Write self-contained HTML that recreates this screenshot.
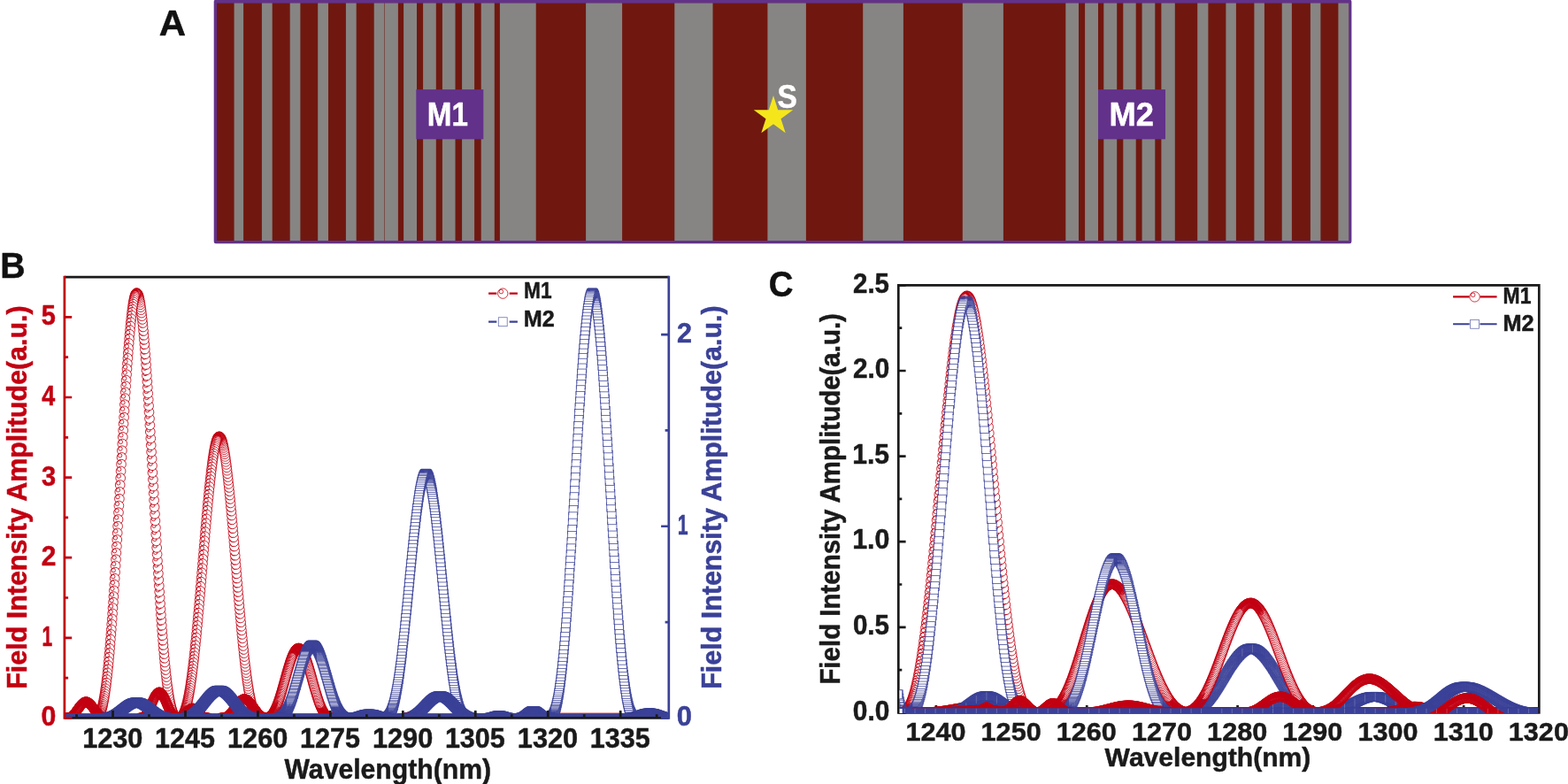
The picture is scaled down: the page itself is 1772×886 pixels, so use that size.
<!DOCTYPE html>
<html lang="en"><head><meta charset="utf-8"><title>Figure</title>
<style>
html,body{margin:0;padding:0;background:#fff;}
body{width:1772px;height:886px;overflow:hidden;}
svg{display:block;}
svg text{font-family:'Liberation Sans', sans-serif;font-weight:700;stroke-linejoin:round;}
</style></head><body>
<svg width="1772" height="886" viewBox="0 0 1772 886">
<rect width="1772" height="886" fill="#fff"/>
<g id="panelA">
<rect x="241.7" y="-0.3" width="1285.7" height="275.6" fill="#62318a" rx="2.2"/>
<rect x="245.0" y="3.6" width="1279.2" height="268.4" fill="#701810"/>
<path d="M264.6,3.6H275.1V272.0H264.6ZM295.9,3.6H307.7V272.0H295.9ZM327.7,3.6H339.4V272.0H327.7ZM359.2,3.6H371.0V272.0H359.2ZM390.9,3.6H402.7V272.0H390.9ZM422.7,3.6H434.1V272.0H422.7ZM434.6,3.6H449.9V272.0H434.6ZM456.1,3.6H471.0V272.0H456.1ZM478.1,3.6H492.8V272.0H478.1ZM499.9,3.6H514.5V272.0H499.9ZM522.1,3.6H536.1V272.0H522.1ZM543.7,3.6H558.8V272.0H543.7ZM564.9,3.6H605.7V272.0H564.9ZM662.1,3.6H703.1V272.0H662.1ZM762.3,3.6H805.5V272.0H762.3ZM867.4,3.6H910.9V272.0H867.4ZM975.2,3.6H1020.9V272.0H975.2ZM1087.8,3.6H1133.9V272.0H1087.8ZM1204.3,3.6H1219.0V272.0H1204.3ZM1226.1,3.6H1241.0V272.0H1226.1ZM1247.3,3.6H1262.2V272.0H1247.3ZM1269.3,3.6H1283.7V272.0H1269.3ZM1290.6,3.6H1305.3V272.0H1290.6ZM1312.4,3.6H1327.8V272.0H1312.4ZM1353.2,3.6H1365.4V272.0H1353.2ZM1385.4,3.6H1396.9V272.0H1385.4ZM1417.4,3.6H1428.9V272.0H1417.4ZM1448.7,3.6H1459.9V272.0H1448.7ZM1480.9,3.6H1492.4V272.0H1480.9ZM1512.4,3.6H1524.2V272.0H1512.4Z" fill="#868583"/>
<rect x="470.3" y="101.1" width="76" height="56.2" fill="#62318a"/>
<text transform="translate(482.83,142.30) scale(0.9126,1)" font-size="36.4" fill="#fff" stroke="#fff" stroke-width="0.5">M1</text>
<rect x="1241.0" y="101.1" width="76" height="56.2" fill="#62318a"/>
<text transform="translate(1253.52,142.30) scale(0.9984,1)" font-size="36.4" fill="#fff" stroke="#fff" stroke-width="0.5">M2</text>
<polygon points="874.0,108.1 879.2,124.2 896.2,124.2 882.5,134.2 887.7,150.3 874.0,140.3 860.3,150.3 865.5,134.2 851.8,124.2 868.8,124.2" fill="#f5e61c"/>
<text transform="translate(878.58,121.90) scale(0.9217,1)" font-size="36.4" fill="#fff" stroke="#fff" stroke-width="0.5">S</text>
</g>
<text transform="translate(179.86,40.00) scale(1.0284,1)" font-size="40.8" fill="#111111" stroke="#111111" stroke-width="0.5">A</text>
<text transform="translate(0.33,313.50) scale(0.9605,1)" font-size="40.8" fill="#111111" stroke="#111111" stroke-width="0.5">B</text>
<text transform="translate(868.78,334.50) scale(0.9409,1)" font-size="40.8" fill="#111111" stroke="#111111" stroke-width="0.5">C</text>
<defs>
<marker id="mr" markerUnits="userSpaceOnUse" markerWidth="16" markerHeight="16" refX="8" refY="8" orient="0" fill="none" stroke="#c20012" stroke-width="0.84"><circle cx="8" cy="8" r="4.63" fill="#fff" stroke="none"/><circle cx="8" cy="8" r="5.35"/><circle cx="6.1" cy="5.9" r="2.2"/></marker>
<marker id="nr" markerUnits="userSpaceOnUse" markerWidth="16" markerHeight="16" refX="8" refY="8" orient="0" fill="none" stroke="#c20012" stroke-width="0.84"><circle cx="8" cy="8" r="5.35"/><circle cx="6.1" cy="5.9" r="2.2"/></marker>
<marker id="mb" markerUnits="userSpaceOnUse" markerWidth="16" markerHeight="16" refX="8" refY="8" orient="0" fill="none" stroke="#3a4197" stroke-width="0.74"><rect x="3.77" y="3.77" width="8.46" height="8.46" fill="#fff" stroke="none"/><rect x="3.05" y="3.05" width="9.9" height="9.9"/></marker>
<marker id="nb" markerUnits="userSpaceOnUse" markerWidth="16" markerHeight="16" refX="8" refY="8" orient="0" fill="none" stroke="#3a4197" stroke-width="0.74"><rect x="3.05" y="3.05" width="9.9" height="9.9"/></marker>
<clipPath id="clipB"><rect x="74.20" y="313.1" width="680.30" height="497.10"/></clipPath>
</defs>
<g id="dataB" clip-path="url(#clipB)" fill="none" stroke-width="0.6">
<path d="M70.2,811.4H758.5" stroke="#c20012" stroke-width="10.0"/>
<polyline points="202.6,811.4 202.2,811.4 201.8,811.4 201.3,811.4 200.9,811.3 200.5,811.3 200,811.1 199.6,811 199.2,810.8 198.8,810.5 198.3,810.2 197.9,809.7 197.5,809.2 197,808.6 196.6,807.9 196.2,807.1 195.7,806.2 195.3,805.2" stroke="#c20012" marker-start="url(#nr)" marker-mid="url(#nr)"/>
<polyline points="195.3,805.2 194.9,804.1 194.4,802.8 194,801.4 193.6,799.8 193.1,798.1 192.7,796.3 192.3,794.3 191.8,792.1 191.4,789.8 191,787.3 190.6,784.7 190.1,781.8 189.7,778.8 189.3,775.7 188.8,772.3 188.4,768.8 188,765.1 187.5,761.2 187.1,757.1 186.7,752.9 186.2,748.5 185.8,743.9 185.4,739.1 184.9,734.1 184.5,729 184.1,723.7 183.6,718.2 183.2,712.6 182.8,706.8 182.3,700.8 181.9,694.7 181.5,688.5 181.1,682.1 180.6,675.5 180.2,668.9 179.8,662.1 179.3,655.2 178.9,648.1 178.5,641 178,633.8 177.6,626.4 177.2,619 176.7,611.5 176.3,603.9 175.9,596.3 175.4,588.6 175,580.9 174.6,573.1 174.1,565.3 173.7,557.5 173.3,549.7 172.9,541.9 172.4,534.1 172,526.3 171.6,518.5 171.1,510.8 170.7,503.2 170.3,495.5 169.8,488 169.4,480.5 169,473.1 168.5,465.8 168.1,458.7 167.7,451.6 167.2,444.6 166.8,437.8 166.4,431.1 165.9,424.6 165.5,418.3 165.1,412.1 164.7,406 164.2,400.2 163.8,394.6 163.4,389.1 162.9,383.9 162.5,378.9 162.1,374.1 161.6,369.5 161.2,365.1 160.8,361 160.3,357.2 159.9,353.6 159.5,350.2 159,347.1 158.6,344.3 158.2,341.7 157.7,339.5 157.3,337.4 156.9,335.7 156.5,334.3 156,333.1" stroke="#c20012" marker-start="url(#mr)" marker-mid="url(#mr)"/>
<polyline points="156,333.1 155.6,332.2 155.2,331.6 154.7,331.3 154.3,331.2 153.9,331.5 153.4,332 153,332.9 152.6,334" stroke="#c20012" marker-start="url(#nr)" marker-mid="url(#nr)"/>
<polyline points="152.6,334 152.1,335.4 151.7,337 151.3,339 150.8,341.2 150.4,343.7 150,346.5 149.5,349.5 149.1,352.8 148.7,356.4 148.3,360.2 147.8,364.2 147.4,368.5 147,373.1 146.5,377.8 146.1,382.8 145.7,388 145.2,393.4 144.8,399 144.4,404.8 143.9,410.8 143.5,416.9 143.1,423.2 142.6,429.7 142.2,436.4 141.8,443.2 141.3,450.1 140.9,457.1 140.5,464.3 140.1,471.6 139.6,478.9 139.2,486.4 138.8,493.9 138.3,501.5 137.9,509.2 137.5,516.9 137,524.6 136.6,532.4 136.2,540.2 135.7,548 135.3,555.9 134.9,563.7 134.4,571.5 134,579.2 133.6,587 133.1,594.7 132.7,602.3 132.3,609.9 131.9,617.4 131.4,624.8 131,632.2 130.6,639.4 130.1,646.6 129.7,653.7 129.3,660.6 128.8,667.4 128.4,674.1 128,680.7 127.5,687.1 127.1,693.4 126.7,699.5 126.2,705.5 125.8,711.4 125.4,717 124.9,722.5 124.5,727.9 124.1,733 123.7,738 123.2,742.8 122.8,747.5 122.4,752 121.9,756.2 121.5,760.3 121.1,764.3 120.6,768 120.2,771.6 119.8,775 119.3,778.2 118.9,781.2 118.5,784.1 118,786.8 117.6,789.3 117.2,791.6 116.7,793.8 116.3,795.9 115.9,797.7 115.5,799.5 115,801 114.6,802.5 114.2,803.8 113.7,805" stroke="#c20012" marker-start="url(#mr)" marker-mid="url(#mr)"/>
<polyline points="113.7,805 113.3,806 112.9,807 112.4,807.8 112,808.5 111.6,809.1 111.1,809.6 110.7,810.1 110.3,810.4 109.8,810.7 109.4,810.9 109,811.1 108.5,811.2 108.1,811.3 107.7,811.4 107.3,811.4 106.8,811.4 106.4,811.4" stroke="#c20012" marker-start="url(#nr)" marker-mid="url(#nr)" marker-end="url(#nr)"/>
<polyline points="295.9,811.4 295.5,811.4 295,811.4 294.6,811.4 294.2,811.4 293.7,811.3 293.3,811.2 292.9,811.1 292.4,811 292,810.8 291.6,810.6 291.1,810.3 290.7,810 290.3,809.6 289.8,809.1 289.4,808.6 289,808 288.6,807.3 288.1,806.5 287.7,805.7 287.3,804.8 286.8,803.7" stroke="#c20012" marker-start="url(#nr)" marker-mid="url(#nr)"/>
<polyline points="286.8,803.7 286.4,802.6 286,801.4 285.5,800.1 285.1,798.6 284.7,797.1 284.2,795.4 283.8,793.7 283.4,791.8 282.9,789.8 282.5,787.7 282.1,785.5 281.6,783.2 281.2,780.7 280.8,778.2 280.4,775.5 279.9,772.6 279.5,769.7 279.1,766.7 278.6,763.5 278.2,760.2 277.8,756.8 277.3,753.3 276.9,749.7 276.5,746 276,742.1 275.6,738.2 275.2,734.1 274.7,730 274.3,725.8 273.9,721.4 273.4,717 273,712.5 272.6,707.9 272.2,703.3 271.7,698.5 271.3,693.8 270.9,688.9 270.4,684 270,679 269.6,674 269.1,669 268.7,663.9 268.3,658.7 267.8,653.6 267.4,648.4 267,643.3 266.5,638.1 266.1,632.9 265.7,627.8 265.2,622.6 264.8,617.5 264.4,612.3 264,607.3 263.5,602.2 263.1,597.2 262.7,592.3 262.2,587.4 261.8,582.5 261.4,577.8 260.9,573.1 260.5,568.5 260.1,564 259.6,559.6 259.2,555.3 258.8,551 258.3,546.9 257.9,542.9 257.5,539.1 257,535.3 256.6,531.7 256.2,528.3 255.8,524.9 255.3,521.8 254.9,518.7 254.5,515.9 254,513.1 253.6,510.6 253.2,508.2 252.7,506 252.3,503.9 251.9,502.1 251.4,500.4 251,498.8 250.6,497.5 250.1,496.4" stroke="#c20012" marker-start="url(#mr)" marker-mid="url(#mr)"/>
<polyline points="250.1,496.4 249.7,495.4 249.3,494.6 248.8,494 248.4,493.6 248,493.4 247.6,493.4 247.1,493.6 246.7,493.9 246.3,494.5 245.8,495.2 245.4,496.1 245,497.3" stroke="#c20012" marker-start="url(#nr)" marker-mid="url(#nr)"/>
<polyline points="245,497.3 244.5,498.5 244.1,500 243.7,501.7 243.2,503.5 242.8,505.5 242.4,507.7 241.9,510.1 241.5,512.6 241.1,515.3 240.6,518.1 240.2,521.1 239.8,524.2 239.4,527.5 238.9,531 238.5,534.6 238.1,538.3 237.6,542.1 237.2,546.1 236.8,550.1 236.3,554.3 235.9,558.6 235.5,563 235,567.5 234.6,572.1 234.2,576.8 233.7,581.5 233.3,586.3 232.9,591.2 232.4,596.1 232,601.1 231.6,606.2 231.2,611.2 230.7,616.4 230.3,621.5 229.9,626.6 229.4,631.8 229,637 228.6,642.2 228.1,647.3 227.7,652.5 227.3,657.6 226.8,662.8 226.4,667.9 226,672.9 225.5,677.9 225.1,682.9 224.7,687.8 224.2,692.7 223.8,697.5 223.4,702.3 223,706.9 222.5,711.5 222.1,716.1 221.7,720.5 221.2,724.8 220.8,729.1 220.4,733.3 219.9,737.3 219.5,741.3 219.1,745.1 218.6,748.9 218.2,752.5 217.8,756.1 217.3,759.5 216.9,762.8 216.5,766 216,769.1 215.6,772 215.2,774.9 214.8,777.6 214.3,780.2 213.9,782.7 213.5,785 213,787.3 212.6,789.4 212.2,791.4 211.7,793.3 211.3,795.1 210.9,796.8 210.4,798.3 210,799.8 209.6,801.1 209.1,802.4 208.7,803.5" stroke="#c20012" marker-start="url(#mr)" marker-mid="url(#mr)"/>
<polyline points="208.7,803.5 208.3,804.5 207.8,805.5 207.4,806.4 207,807.1 206.6,807.8 206.1,808.5 205.7,809 205.3,809.5 204.8,809.9 204.4,810.2 204,810.5 203.5,810.8 203.1,810.9 202.7,811.1 202.2,811.2 201.8,811.3 201.4,811.3 200.9,811.4 200.5,811.4 200.1,811.4 199.6,811.4" stroke="#c20012" marker-start="url(#nr)" marker-mid="url(#nr)" marker-end="url(#nr)"/>
<polyline points="376.9,811.4 376.5,811.4 376,811.4 375.6,811.4 375.2,811.4 374.7,811.3 374.3,811.3 373.9,811.2 373.4,811.2 373,811.1 372.6,811 372.1,810.8 371.7,810.7 371.3,810.5 370.8,810.2 370.4,810 370,809.7 369.5,809.4 369.1,809 368.7,808.7 368.3,808.2 367.8,807.8 367.4,807.3 367,806.7 366.5,806.1 366.1,805.5 365.7,804.8 365.2,804.1 364.8,803.3 364.4,802.5 363.9,801.7 363.5,800.8 363.1,799.9 362.6,798.9 362.2,797.9 361.8,796.8 361.3,795.7" stroke="#c20012" marker-start="url(#nr)" marker-mid="url(#nr)"/>
<polyline points="361.3,795.7 360.9,794.6 360.5,793.4 360.1,792.2 359.6,790.9 359.2,789.6 358.8,788.3 358.3,786.9 357.9,785.6 357.5,784.2 357,782.7 356.6,781.3 356.2,779.8 355.7,778.3 355.3,776.8 354.9,775.3 354.4,773.7 354,772.2 353.6,770.6 353.1,769.1 352.7,767.5 352.3,765.9 351.9,764.4 351.4,762.8 351,761.3 350.6,759.8 350.1,758.3 349.7,756.8 349.3,755.3 348.8,753.9 348.4,752.5 348,751.1 347.5,749.7 347.1,748.4 346.7,747.1 346.2,745.9 345.8,744.7 345.4,743.5" stroke="#c20012" marker-start="url(#mr)" marker-mid="url(#mr)"/>
<polyline points="345.4,743.5 344.9,742.4 344.5,741.4 344.1,740.4 343.7,739.4 343.2,738.5 342.8,737.7 342.4,736.9 341.9,736.2 341.5,735.5 341.1,734.9 340.6,734.4 340.2,733.9 339.8,733.5 339.3,733.2 338.9,733 338.5,732.8 338,732.6 337.6,732.6 337.2,732.6 336.7,732.7 336.3,732.8 335.9,733.1 335.5,733.3 335,733.7 334.6,734.1 334.2,734.6 333.7,735.2 333.3,735.8 332.9,736.5 332.4,737.2 332,738 331.6,738.9 331.1,739.8 330.7,740.8 330.3,741.8 329.8,742.9" stroke="#c20012" marker-start="url(#nr)" marker-mid="url(#nr)"/>
<polyline points="329.8,742.9 329.4,744 329,745.2 328.5,746.4 328.1,747.7 327.7,749 327.3,750.3 326.8,751.7 326.4,753.1 326,754.5 325.5,755.9 325.1,757.4 324.7,758.9 324.2,760.4 323.8,761.9 323.4,763.5 322.9,765 322.5,766.6 322.1,768.1 321.6,769.7 321.2,771.3 320.8,772.8 320.3,774.4 319.9,775.9 319.5,777.4 319,778.9 318.6,780.4 318.2,781.9 317.8,783.3 317.3,784.7 316.9,786.1 316.5,787.5 316,788.9 315.6,790.2 315.2,791.4 314.7,792.7 314.3,793.9 313.9,795 313.4,796.2" stroke="#c20012" marker-start="url(#mr)" marker-mid="url(#mr)"/>
<polyline points="313.4,796.2 313,797.2 312.6,798.3 312.1,799.3 311.7,800.2 311.3,801.2 310.8,802 310.4,802.9 310,803.7 309.6,804.4 309.1,805.1 308.7,805.8 308.3,806.4 307.8,806.9 307.4,807.5 307,808 306.5,808.4 306.1,808.8 305.7,809.2 305.2,809.5 304.8,809.8 304.4,810.1 303.9,810.3 303.5,810.6 303.1,810.7 302.6,810.9 302.2,811 301.8,811.1 301.4,811.2 300.9,811.3 300.5,811.3 300.1,811.4 299.6,811.4 299.2,811.4 298.8,811.4 298.3,811.4 297.9,811.4" stroke="#c20012" marker-start="url(#nr)" marker-mid="url(#nr)" marker-end="url(#nr)"/>
<polyline points="120.8,811.4 120.3,811.4 119.9,811.4 119.5,811.4 119,811.4 118.6,811.4 118.2,811.3 117.7,811.3 117.3,811.2 116.9,811.1 116.4,811 116,810.9 115.6,810.7 115.2,810.5 114.7,810.3 114.3,810.1 113.9,809.8 113.4,809.5 113,809.2 112.6,808.9 112.1,808.5 111.7,808.1 111.3,807.7 110.8,807.2 110.4,806.8 110,806.3 109.5,805.7 109.1,805.2 108.7,804.6 108.2,804.1 107.8,803.5 107.4,802.9 107,802.3 106.5,801.7 106.1,801.1 105.7,800.5 105.2,799.9 104.8,799.3 104.4,798.7 103.9,798.2 103.5,797.6 103.1,797.1 102.6,796.6 102.2,796.1 101.8,795.7 101.3,795.3 100.9,794.9 100.5,794.5 100,794.2 99.6,794 99.2,793.7 98.8,793.6 98.3,793.4 97.9,793.3 97.5,793.3 97,793.3 96.6,793.3 96.2,793.4 95.7,793.5 95.3,793.7 94.9,793.9 94.4,794.2 94,794.5 93.6,794.8 93.1,795.2 92.7,795.6 92.3,796.1 91.8,796.5 91.4,797 91,797.5 90.6,798.1 90.1,798.6 89.7,799.2 89.3,799.8 88.8,800.4 88.4,801 88,801.6 87.5,802.2 87.1,802.8 86.7,803.4 86.2,804 85.8,804.6 85.4,805.1 84.9,805.7 84.5,806.2 84.1,806.7 83.6,807.2 83.2,807.6 82.8,808.1 82.4,808.5 81.9,808.8 81.5,809.2 81.1,809.5 80.6,809.8 80.2,810.1 79.8,810.3 79.3,810.5 78.9,810.7 78.5,810.8 78,811 77.6,811.1 77.2,811.2 76.7,811.3 76.3,811.3 75.9,811.3 75.4,811.4 75,811.4 74.6,811.4 74.2,811.4 73.7,811.4" stroke="#c20012" marker-start="url(#nr)" marker-mid="url(#nr)" marker-end="url(#nr)"/>
<polyline points="235.9,811.4 235.5,811.4 235,811.4 234.6,811.4 234.2,811.4 233.7,811.3 233.3,811.3 232.9,811.2 232.4,811.2 232,811.1 231.6,810.9 231.2,810.8 230.7,810.6 230.3,810.4 229.9,810.1 229.4,809.9 229,809.6 228.6,809.2 228.1,808.9 227.7,808.5 227.3,808.1 226.8,807.7 226.4,807.3 226,806.8 225.5,806.4 225.1,805.9 224.7,805.4 224.2,804.9 223.8,804.5 223.4,804 223,803.6 222.5,803.1 222.1,802.7 221.7,802.4 221.2,802 220.8,801.7 220.4,801.4 219.9,801.1 219.5,800.9 219.1,800.8 218.6,800.6 218.2,800.6 217.8,800.5 217.3,800.5 216.9,800.6 216.5,800.7 216,800.9 215.6,801 215.2,801.3 214.8,801.5 214.3,801.9 213.9,802.2 213.5,802.6 213,803 212.6,803.4 212.2,803.8 211.7,804.3 211.3,804.7 210.9,805.2 210.4,805.7 210,806.1 209.6,806.6 209.1,807.1 208.7,807.5 208.3,807.9 207.8,808.3 207.4,808.7 207,809.1 206.6,809.4 206.1,809.7 205.7,810 205.3,810.3 204.8,810.5 204.4,810.7 204,810.9 203.5,811 203.1,811.1 202.7,811.2 202.2,811.3 201.8,811.3 201.4,811.4 200.9,811.4 200.5,811.4 200.1,811.4 199.6,811.4" stroke="#c20012" marker-start="url(#nr)" marker-mid="url(#nr)" marker-end="url(#nr)"/>
<polyline points="202.2,811.4 201.8,811.4 201.3,811.4 200.9,811.4 200.5,811.3 200,811.3 199.6,811.2 199.2,811.1 198.7,811 198.3,810.8 197.9,810.6 197.5,810.4 197,810.1 196.6,809.7 196.2,809.3 195.7,808.9 195.3,808.4 194.9,807.9 194.4,807.3 194,806.6 193.6,805.9 193.1,805.2 192.7,804.4 192.3,803.6 191.8,802.7 191.4,801.8 191,800.9 190.5,799.9 190.1,798.9 189.7,797.9 189.2,796.9 188.8,795.9 188.4,794.9 188,793.9 187.5,792.9 187.1,791.9 186.7,790.9 186.2,790 185.8,789.1 185.4,788.2 184.9,787.4 184.5,786.6 184.1,785.9 183.6,785.2 183.2,784.6 182.8,784.1 182.3,783.6 181.9,783.2 181.5,782.9 181,782.7 180.6,782.5 180.2,782.4 179.8,782.4 179.3,782.5 178.9,782.7 178.5,782.9 178,783.2 177.6,783.6 177.2,784.1 176.7,784.6 176.3,785.2 175.9,785.9 175.4,786.6 175,787.4 174.6,788.2 174.1,789.1 173.7,790 173.3,791 172.8,791.9 172.4,792.9 172,793.9 171.6,794.9 171.1,796 170.7,797 170.3,798 169.8,799 169.4,800 169,800.9 168.5,801.9 168.1,802.8 167.7,803.6 167.2,804.4 166.8,805.2 166.4,806 165.9,806.6 165.5,807.3 165.1,807.9 164.6,808.4 164.2,808.9 163.8,809.3 163.4,809.7 162.9,810.1 162.5,810.4 162.1,810.6 161.6,810.8 161.2,811 160.8,811.1 160.3,811.2 159.9,811.3 159.5,811.3 159,811.4 158.6,811.4 158.2,811.4 157.7,811.4" stroke="#c20012" marker-start="url(#nr)" marker-mid="url(#nr)" marker-end="url(#nr)"/>
<polyline points="303,811.4 302.6,811.4 302.2,811.4 301.7,811.4 301.3,811.4 300.9,811.4 300.4,811.3 300,811.3 299.6,811.2 299.2,811.1 298.7,811 298.3,810.9 297.9,810.8 297.4,810.7 297,810.5 296.6,810.3 296.1,810.1 295.7,809.8 295.3,809.5 294.8,809.3 294.4,808.9 294,808.6 293.5,808.2 293.1,807.8 292.7,807.4 292.2,807 291.8,806.5 291.4,806 291,805.5 290.5,805 290.1,804.4 289.7,803.9 289.2,803.3 288.8,802.7 288.4,802.1 287.9,801.5 287.5,800.9 287.1,800.3 286.6,799.7 286.2,799.1 285.8,798.5 285.3,797.8 284.9,797.2 284.5,796.7 284,796.1 283.6,795.5 283.2,795 282.8,794.4 282.3,793.9 281.9,793.5 281.5,793 281,792.6 280.6,792.2 280.2,791.8 279.7,791.5 279.3,791.2 278.9,790.9 278.4,790.7 278,790.5 277.6,790.3 277.1,790.2 276.7,790.1 276.3,790.1 275.8,790.1 275.4,790.2 275,790.3 274.6,790.4 274.1,790.5 273.7,790.7 273.3,791 272.8,791.3 272.4,791.6 272,791.9 271.5,792.3 271.1,792.7 270.7,793.1 270.2,793.6 269.8,794.1 269.4,794.6 268.9,795.1 268.5,795.7 268.1,796.3 267.6,796.8 267.2,797.4 266.8,798 266.4,798.6 265.9,799.3 265.5,799.9 265.1,800.5 264.6,801.1 264.2,801.7 263.8,802.3 263.3,802.9 262.9,803.5 262.5,804.1 262,804.6 261.6,805.1 261.2,805.7 260.7,806.2 260.3,806.6 259.9,807.1 259.4,807.5 259,808 258.6,808.3 258.2,808.7 257.7,809 257.3,809.3 256.9,809.6 256.4,809.9 256,810.1 255.6,810.3 255.1,810.5 254.7,810.7 254.3,810.8 253.8,811 253.4,811.1 253,811.2 252.5,811.2 252.1,811.3 251.7,811.3 251.2,811.4 250.8,811.4 250.4,811.4 250,811.4 249.5,811.4 249.1,811.4" stroke="#c20012" marker-start="url(#nr)" marker-mid="url(#nr)" marker-end="url(#nr)"/>
<polyline points="194.6,811.4 194.2,811.4 193.7,811.4 193.3,811.4 192.9,811.4 192.4,811.4 192,811.4 191.6,811.4 191.1,811.4 190.7,811.3 190.3,811.3 189.8,811.3 189.4,811.2 189,811.2 188.5,811.2 188.1,811.1 187.7,811.1 187.2,811 186.8,810.9 186.4,810.8 185.9,810.7 185.5,810.6 185.1,810.5 184.7,810.4 184.2,810.3 183.8,810.2 183.4,810 182.9,809.9 182.5,809.7 182.1,809.5 181.6,809.4 181.2,809.2 180.8,809 180.3,808.8 179.9,808.6 179.5,808.3 179,808.1 178.6,807.9 178.2,807.6 177.7,807.4 177.3,807.1 176.9,806.8 176.5,806.5 176,806.3 175.6,806 175.2,805.7 174.7,805.3 174.3,805 173.9,804.7 173.4,804.4 173,804.1 172.6,803.7 172.1,803.4 171.7,803.1 171.3,802.7 170.8,802.4 170.4,802.1 170,801.7 169.5,801.4 169.1,801 168.7,800.7 168.3,800.4 167.8,800 167.4,799.7 167,799.4 166.5,799.1 166.1,798.7 165.7,798.4 165.2,798.1 164.8,797.8 164.4,797.5 163.9,797.3 163.5,797 163.1,796.7 162.6,796.5 162.2,796.2 161.8,796 161.3,795.7 160.9,795.5 160.5,795.3 160.1,795.1 159.6,794.9 159.2,794.8 158.8,794.6 158.3,794.5 157.9,794.4 157.5,794.2 157,794.1 156.6,794.1 156.2,794 155.7,793.9 155.3,793.9 154.9,793.9 154.4,793.9 154,793.9 153.6,793.9 153.1,793.9 152.7,794 152.3,794 151.9,794.1 151.4,794.2 151,794.3 150.6,794.4 150.1,794.5 149.7,794.7 149.3,794.8 148.8,795 148.4,795.2 148,795.4 147.5,795.6 147.1,795.8 146.7,796 146.2,796.3 145.8,796.5 145.4,796.8 144.9,797.1 144.5,797.3 144.1,797.6 143.7,797.9 143.2,798.2 142.8,798.5 142.4,798.9 141.9,799.2 141.5,799.5 141.1,799.8 140.6,800.2 140.2,800.5 139.8,800.8 139.3,801.2 138.9,801.5 138.5,801.8 138,802.2 137.6,802.5 137.2,802.9 136.7,803.2 136.3,803.5 135.9,803.9 135.5,804.2 135,804.5 134.6,804.8 134.2,805.1 133.7,805.5 133.3,805.8 132.9,806.1 132.4,806.4 132,806.6 131.6,806.9 131.1,807.2 130.7,807.4 130.3,807.7 129.8,808 129.4,808.2 129,808.4 128.5,808.6 128.1,808.9 127.7,809.1 127.3,809.2 126.8,809.4 126.4,809.6 126,809.8 125.5,809.9 125.1,810.1 124.7,810.2 124.2,810.3 123.8,810.5 123.4,810.6 122.9,810.7 122.5,810.8 122.1,810.9 121.6,810.9 121.2,811 120.8,811.1 120.3,811.1 119.9,811.2 119.5,811.2 119.1,811.3 118.6,811.3 118.2,811.3 117.8,811.3 117.3,811.4 116.9,811.4 116.5,811.4 116,811.4 115.6,811.4 115.2,811.4 114.7,811.4 114.3,811.4 113.9,811.4" stroke="#3a4197" marker-start="url(#nb)" marker-mid="url(#nb)" marker-end="url(#nb)"/>
<polyline points="291.9,811.4 291.5,811.4 291.1,811.4 290.7,811.4 290.2,811.4 289.8,811.4 289.4,811.4 288.9,811.4 288.5,811.3 288.1,811.3 287.6,811.3 287.2,811.3 286.8,811.2 286.3,811.2 285.9,811.1 285.5,811 285,810.9 284.6,810.9 284.2,810.8 283.7,810.7 283.3,810.5 282.9,810.4 282.5,810.3 282,810.1 281.6,809.9 281.2,809.8 280.7,809.6 280.3,809.4 279.9,809.1 279.4,808.9 279,808.7 278.6,808.4 278.1,808.1 277.7,807.8 277.3,807.5 276.8,807.2 276.4,806.9 276,806.5 275.5,806.2 275.1,805.8 274.7,805.4 274.3,805 273.8,804.6 273.4,804.2 273,803.8 272.5,803.3 272.1,802.9 271.7,802.4 271.2,802 270.8,801.5 270.4,801 269.9,800.5 269.5,800 269.1,799.4 268.6,798.9 268.2,798.4 267.8,797.9 267.3,797.3 266.9,796.8 266.5,796.2 266.1,795.7 265.6,795.1 265.2,794.6 264.8,794 264.3,793.5 263.9,792.9 263.5,792.4 263,791.8 262.6,791.3 262.2,790.8 261.7,790.2 261.3,789.7 260.9,789.2 260.4,788.7 260,788.2 259.6,787.7 259.1,787.2 258.7,786.7 258.3,786.3 257.9,785.8 257.4,785.4 257,785 256.6,784.5 256.1,784.2 255.7,783.8 255.3,783.4 254.8,783.1 254.4,782.7 254,782.4 253.5,782.1 253.1,781.9 252.7,781.6 252.2,781.4 251.8,781.2 251.4,781 250.9,780.8 250.5,780.7 250.1,780.5 249.7,780.4 249.2,780.3 248.8,780.3 248.4,780.2 247.9,780.2 247.5,780.2 247.1,780.2 246.6,780.3 246.2,780.3 245.8,780.4 245.3,780.5 244.9,780.7 244.5,780.8 244,781 243.6,781.2 243.2,781.4 242.7,781.6 242.3,781.9 241.9,782.2 241.5,782.5 241,782.8 240.6,783.1 240.2,783.4 239.7,783.8 239.3,784.2 238.9,784.6 238.4,785 238,785.4 237.6,785.8 237.1,786.3 236.7,786.8 236.3,787.2 235.8,787.7 235.4,788.2 235,788.7 234.5,789.2 234.1,789.7 233.7,790.3 233.3,790.8 232.8,791.3 232.4,791.9 232,792.4 231.5,793 231.1,793.5 230.7,794.1 230.2,794.6 229.8,795.2 229.4,795.7 228.9,796.3 228.5,796.8 228.1,797.4 227.6,797.9 227.2,798.4 226.8,799 226.3,799.5 225.9,800 225.5,800.5 225.1,801 224.6,801.5 224.2,802 223.8,802.5 223.3,802.9 222.9,803.4 222.5,803.8 222,804.2 221.6,804.7 221.2,805.1 220.7,805.5 220.3,805.8 219.9,806.2 219.4,806.6 219,806.9 218.6,807.2 218.1,807.6 217.7,807.9 217.3,808.1 216.8,808.4 216.4,808.7 216,808.9 215.6,809.2 215.1,809.4 214.7,809.6 214.3,809.8 213.8,810 213.4,810.1 213,810.3 212.5,810.4 212.1,810.5 211.7,810.7 211.2,810.8 210.8,810.9 210.4,811 209.9,811 209.5,811.1 209.1,811.2 208.6,811.2 208.2,811.3 207.8,811.3 207.4,811.3 206.9,811.3 206.5,811.4 206.1,811.4 205.6,811.4 205.2,811.4 204.8,811.4 204.3,811.4 203.9,811.4 203.5,811.4" stroke="#3a4197" marker-start="url(#nb)" marker-mid="url(#nb)" marker-end="url(#nb)"/>
<polyline points="395.2,811.4 394.8,811.4 394.4,811.4 393.9,811.4 393.5,811.4 393.1,811.4 392.6,811.3 392.2,811.3 391.8,811.2 391.3,811.1 390.9,811.1 390.5,810.9 390,810.8 389.6,810.7 389.2,810.5 388.8,810.3 388.3,810 387.9,809.8 387.5,809.5 387,809.1 386.6,808.8 386.2,808.4 385.7,807.9 385.3,807.5 384.9,807 384.4,806.4 384,805.8 383.6,805.2 383.1,804.5 382.7,803.8 382.3,803.1 381.8,802.3 381.4,801.5 381,800.6 380.6,799.7 380.1,798.8 379.7,797.8 379.3,796.8 378.8,795.7 378.4,794.6" stroke="#3a4197" marker-start="url(#nb)" marker-mid="url(#nb)"/>
<polyline points="378.4,794.6 378,793.5 377.5,792.3 377.1,791.1 376.7,789.9 376.2,788.6 375.8,787.3 375.4,786 374.9,784.7 374.5,783.3 374.1,781.9 373.6,780.4 373.2,779 372.8,777.5 372.4,776.1 371.9,774.6 371.5,773.1 371.1,771.6 370.6,770 370.2,768.5 369.8,767 369.3,765.4 368.9,763.9 368.5,762.4 368,760.9 367.6,759.4 367.2,757.9 366.7,756.4 366.3,754.9 365.9,753.5 365.4,752 365,750.6 364.6,749.3 364.2,747.9 363.7,746.6 363.3,745.3 362.9,744.1 362.4,742.8 362,741.7 361.6,740.5" stroke="#3a4197" marker-start="url(#mb)" marker-mid="url(#mb)"/>
<polyline points="361.6,740.5 361.1,739.4 360.7,738.4 360.3,737.4 359.8,736.5 359.4,735.6 359,734.7 358.5,733.9 358.1,733.2 357.7,732.5 357.2,731.9 356.8,731.3 356.4,730.8 356,730.4 355.5,730 355.1,729.7 354.7,729.5 354.2,729.3 353.8,729.1 353.4,729.1 352.9,729.1 352.5,729.1 352.1,729.3 351.6,729.5 351.2,729.7 350.8,730 350.3,730.4 349.9,730.9 349.5,731.4 349,731.9 348.6,732.6 348.2,733.2 347.8,734 347.3,734.8 346.9,735.6 346.5,736.5 346,737.5 345.6,738.5 345.2,739.5 344.7,740.6" stroke="#3a4197" marker-start="url(#nb)" marker-mid="url(#nb)"/>
<polyline points="344.7,740.6 344.3,741.7 343.9,742.9 343.4,744.1 343,745.4 342.6,746.7 342.1,748 341.7,749.3 341.3,750.7 340.8,752.1 340.4,753.6 340,755 339.6,756.5 339.1,758 338.7,759.5 338.3,761 337.8,762.5 337.4,764 337,765.5 336.5,767.1 336.1,768.6 335.7,770.1 335.2,771.6 334.8,773.2 334.4,774.7 333.9,776.2 333.5,777.6 333.1,779.1 332.6,780.5 332.2,782 331.8,783.4 331.4,784.7 330.9,786.1 330.5,787.4 330.1,788.7 329.6,790 329.2,791.2 328.8,792.4 328.3,793.6 327.9,794.7" stroke="#3a4197" marker-start="url(#mb)" marker-mid="url(#mb)"/>
<polyline points="327.9,794.7 327.5,795.8 327,796.8 326.6,797.9 326.2,798.8 325.7,799.8 325.3,800.7 324.9,801.5 324.4,802.4 324,803.1 323.6,803.9 323.2,804.6 322.7,805.2 322.3,805.9 321.9,806.4 321.4,807 321,807.5 320.6,808 320.1,808.4 319.7,808.8 319.3,809.1 318.8,809.5 318.4,809.8 318,810 317.5,810.3 317.1,810.5 316.7,810.7 316.2,810.8 315.8,810.9 315.4,811.1 315,811.2 314.5,811.2 314.1,811.3 313.7,811.3 313.2,811.4 312.8,811.4 312.4,811.4 311.9,811.4 311.5,811.4 311.1,811.4" stroke="#3a4197" marker-start="url(#nb)" marker-mid="url(#nb)" marker-end="url(#nb)"/>
<polyline points="529.8,811.4 529.4,811.4 529,811.4 528.5,811.4 528.1,811.3 527.7,811.3 527.2,811.2 526.8,811.1 526.4,811 525.9,810.8 525.5,810.6 525.1,810.3 524.6,810 524.2,809.7 523.8,809.2 523.3,808.8 522.9,808.2 522.5,807.6 522,806.9 521.6,806.2 521.2,805.4 520.8,804.5 520.3,803.5 519.9,802.4" stroke="#3a4197" marker-start="url(#nb)" marker-mid="url(#nb)"/>
<polyline points="519.9,802.4 519.5,801.2 519,800 518.6,798.6 518.2,797.2 517.7,795.7 517.3,794.1 516.9,792.3 516.4,790.5 516,788.6 515.6,786.6 515.1,784.4 514.7,782.2 514.3,779.9 513.8,777.5 513.4,774.9 513,772.3 512.6,769.6 512.1,766.7 511.7,763.8 511.3,760.8 510.8,757.7 510.4,754.5 510,751.2 509.5,747.8 509.1,744.3 508.7,740.8 508.2,737.1 507.8,733.4 507.4,729.6 506.9,725.8 506.5,721.8 506.1,717.8 505.6,713.8 505.2,709.7 504.8,705.5 504.4,701.3 503.9,697 503.5,692.7 503.1,688.4 502.6,684 502.2,679.7 501.8,675.2 501.3,670.8 500.9,666.4 500.5,661.9 500,657.5 499.6,653 499.2,648.6 498.7,644.2 498.3,639.8 497.9,635.4 497.4,631.1 497,626.8 496.6,622.5 496.2,618.3 495.7,614.1 495.3,610 494.9,606 494.4,602 494,598.1 493.6,594.2 493.1,590.5 492.7,586.8 492.3,583.3 491.8,579.8 491.4,576.4 491,573.2 490.5,570 490.1,567 489.7,564.1 489.2,561.3 488.8,558.6 488.4,556 488,553.6 487.5,551.4 487.1,549.2 486.7,547.2 486.2,545.4 485.8,543.7 485.4,542.1 484.9,540.7 484.5,539.5" stroke="#3a4197" marker-start="url(#mb)" marker-mid="url(#mb)"/>
<polyline points="484.5,539.5 484.1,538.4 483.6,537.5 483.2,536.7 482.8,536.1 482.3,535.6 481.9,535.3 481.5,535.2 481,535.2 480.6,535.4 480.2,535.7 479.7,536.2 479.3,536.9 478.9,537.7 478.5,538.7" stroke="#3a4197" marker-start="url(#nb)" marker-mid="url(#nb)"/>
<polyline points="478.5,538.7 478,539.9 477.6,541.2 477.2,542.6 476.7,544.2 476.3,545.9 475.9,547.8 475.4,549.9 475,552.1 474.6,554.4 474.1,556.8 473.7,559.4 473.3,562.1 472.8,565 472.4,567.9 472,571 471.5,574.2 471.1,577.5 470.7,580.9 470.3,584.4 469.8,588 469.4,591.7 469,595.4 468.5,599.3 468.1,603.2 467.7,607.2 467.2,611.3 466.8,615.4 466.4,619.6 465.9,623.8 465.5,628.1 465.1,632.4 464.6,636.8 464.2,641.2 463.8,645.6 463.3,650 462.9,654.4 462.5,658.9 462.1,663.3 461.6,667.8 461.2,672.2 460.8,676.6 460.3,681 459.9,685.4 459.5,689.8 459,694.1 458.6,698.4 458.2,702.6 457.7,706.8 457.3,711 456.9,715.1 456.4,719.1 456,723.1 455.6,727 455.1,730.8 454.7,734.6 454.3,738.3 453.9,741.9 453.4,745.4 453,748.9 452.6,752.2 452.1,755.5 451.7,758.7 451.3,761.8 450.8,764.8 450.4,767.7 450,770.4 449.5,773.1 449.1,775.7 448.7,778.2 448.2,780.6 447.8,782.9 447.4,785.1 446.9,787.2 446.5,789.2 446.1,791.1 445.7,792.9 445.2,794.6 444.8,796.2 444.4,797.7 443.9,799.1 443.5,800.4 443.1,801.6 442.6,802.7" stroke="#3a4197" marker-start="url(#mb)" marker-mid="url(#mb)"/>
<polyline points="442.6,802.7 442.2,803.8 441.8,804.8 441.3,805.6 440.9,806.4 440.5,807.2 440,807.8 439.6,808.4 439.2,808.9 438.7,809.4 438.3,809.8 437.9,810.1 437.5,810.4 437,810.7 436.6,810.9 436.2,811 435.7,811.1 435.3,811.2 434.9,811.3 434.4,811.4 434,811.4 433.6,811.4 433.1,811.4 432.7,811.4" stroke="#3a4197" marker-start="url(#nb)" marker-mid="url(#nb)" marker-end="url(#nb)"/>
<polyline points="720.1,811.4 719.7,811.4 719.2,811.4 718.8,811.4 718.4,811.3 717.9,811.2 717.5,811.1 717.1,810.9 716.6,810.7 716.2,810.4 715.8,810.1 715.4,809.7 714.9,809.2 714.5,808.7 714.1,808 713.6,807.3 713.2,806.4 712.8,805.5 712.3,804.5" stroke="#3a4197" marker-start="url(#nb)" marker-mid="url(#nb)"/>
<polyline points="712.3,804.5 711.9,803.3 711.5,802 711,800.6 710.6,799.1 710.2,797.4 709.7,795.6 709.3,793.7 708.9,791.6 708.4,789.3 708,787 707.6,784.4 707.2,781.8 706.7,778.9 706.3,775.9 705.9,772.8 705.4,769.5 705,766 704.6,762.4 704.1,758.6 703.7,754.6 703.3,750.5 702.8,746.2 702.4,741.8 702,737.2 701.5,732.4 701.1,727.5 700.7,722.5 700.2,717.3 699.8,711.9 699.4,706.4 698.9,700.8 698.5,695 698.1,689.1 697.7,683.1 697.2,676.9 696.8,670.6 696.4,664.2 695.9,657.7 695.5,651.1 695.1,644.4 694.6,637.6 694.2,630.7 693.8,623.7 693.3,616.6 692.9,609.5 692.5,602.3 692,595.1 691.6,587.8 691.2,580.5 690.7,573.2 690.3,565.8 689.9,558.4 689.5,551 689,543.6 688.6,536.2 688.2,528.8 687.7,521.5 687.3,514.1 686.9,506.9 686.4,499.6 686,492.4 685.6,485.3 685.1,478.3 684.7,471.3 684.3,464.4 683.8,457.6 683.4,450.9 683,444.4 682.5,437.9 682.1,431.6 681.7,425.4 681.3,419.3 680.8,413.4 680.4,407.7 680,402.1 679.5,396.7 679.1,391.4 678.7,386.4 678.2,381.5 677.8,376.8 677.4,372.4 676.9,368.1 676.5,364 676.1,360.2 675.6,356.6 675.2,353.2 674.8,350 674.3,347.1 673.9,344.4 673.5,341.9 673.1,339.7 672.6,337.7 672.2,336 671.8,334.5 671.3,333.3" stroke="#3a4197" marker-start="url(#mb)" marker-mid="url(#mb)"/>
<polyline points="671.3,333.3 670.9,332.3 670.5,331.6 670,331.2 669.6,331 669.2,331 668.7,331.3 668.3,331.9 667.9,332.7 667.4,333.8" stroke="#3a4197" marker-start="url(#nb)" marker-mid="url(#nb)"/>
<polyline points="667.4,333.8 667,335.1 666.6,336.7 666.1,338.6 665.7,340.6 665.3,343 664.9,345.5 664.4,348.3 664,351.4 663.6,354.6 663.1,358.1 662.7,361.9 662.3,365.8 661.8,370 661.4,374.3 661,378.9 660.5,383.6 660.1,388.6 659.7,393.7 659.2,399.1 658.8,404.5 658.4,410.2 657.9,416 657.5,422 657.1,428.1 656.7,434.4 656.2,440.7 655.8,447.3 655.4,453.9 654.9,460.6 654.5,467.4 654.1,474.4 653.6,481.4 653.2,488.5 652.8,495.6 652.3,502.8 651.9,510.1 651.5,517.4 651,524.7 650.6,532.1 650.2,539.5 649.7,546.9 649.3,554.3 648.9,561.7 648.5,569.1 648,576.4 647.6,583.8 647.2,591.1 646.7,598.3 646.3,605.5 645.9,612.7 645.4,619.8 645,626.8 644.6,633.7 644.1,640.6 643.7,647.4 643.3,654 642.8,660.6 642.4,667.1 642,673.4 641.5,679.6 641.1,685.7 640.7,691.7 640.3,697.6 639.8,703.3 639.4,708.9 639,714.3 638.5,719.6 638.1,724.7 637.7,729.7 637.2,734.6 636.8,739.2 636.4,743.8 635.9,748.1 635.5,752.3 635.1,756.4 634.6,760.3 634.2,764 633.8,767.6 633.3,771 632.9,774.2 632.5,777.3 632.1,780.2 631.6,783 631.2,785.6 630.8,788 630.3,790.4 629.9,792.5 629.5,794.5 629,796.4 628.6,798.2 628.2,799.8 627.7,801.2 627.3,802.6 626.9,803.8" stroke="#3a4197" marker-start="url(#mb)" marker-mid="url(#mb)"/>
<polyline points="626.9,803.8 626.4,804.9 626,805.9 625.6,806.8 625.1,807.6 624.7,808.3 624.3,808.9 623.9,809.5 623.4,809.9 623,810.3 622.6,810.6 622.1,810.8 621.7,811 621.3,811.2 620.8,811.3 620.4,811.3 620,811.4 619.5,811.4 619.1,811.4 618.7,811.4" stroke="#3a4197" marker-start="url(#nb)" marker-mid="url(#nb)" marker-end="url(#nb)"/>
<polyline points="539.4,811.4 538.9,811.4 538.5,811.4 538.1,811.4 537.6,811.4 537.2,811.4 536.8,811.4 536.3,811.4 535.9,811.3 535.5,811.3 535.1,811.3 534.6,811.3 534.2,811.2 533.8,811.2 533.3,811.1 532.9,811.1 532.5,811 532,810.9 531.6,810.8 531.2,810.7 530.7,810.6 530.3,810.5 529.9,810.4 529.4,810.2 529,810.1 528.6,809.9 528.1,809.7 527.7,809.5 527.3,809.3 526.9,809.1 526.4,808.9 526,808.7 525.6,808.4 525.1,808.2 524.7,807.9 524.3,807.6 523.8,807.3 523.4,807 523,806.7 522.5,806.4 522.1,806.1 521.7,805.7 521.2,805.4 520.8,805 520.4,804.6 519.9,804.2 519.5,803.8 519.1,803.4 518.7,803 518.2,802.6 517.8,802.2 517.4,801.8 516.9,801.3 516.5,800.9 516.1,800.4 515.6,800 515.2,799.5 514.8,799.1 514.3,798.6 513.9,798.2 513.5,797.7 513,797.3 512.6,796.8 512.2,796.3 511.7,795.9 511.3,795.4 510.9,795 510.5,794.6 510,794.1 509.6,793.7 509.2,793.3 508.7,792.9 508.3,792.5 507.9,792.1 507.4,791.7 507,791.3 506.6,790.9 506.1,790.6 505.7,790.2 505.3,789.9 504.8,789.6 504.4,789.3 504,789 503.5,788.7 503.1,788.5 502.7,788.2 502.3,788 501.8,787.8 501.4,787.6 501,787.4 500.5,787.3 500.1,787.2 499.7,787 499.2,786.9 498.8,786.8 498.4,786.8 497.9,786.7 497.5,786.7 497.1,786.7 496.6,786.7 496.2,786.7 495.8,786.8 495.3,786.9 494.9,786.9 494.5,787.1 494.1,787.2 493.6,787.3 493.2,787.5 492.8,787.7 492.3,787.9 491.9,788.1 491.5,788.3 491,788.5 490.6,788.8 490.2,789.1 489.7,789.4 489.3,789.7 488.9,790 488.4,790.3 488,790.7 487.6,791 487.1,791.4 486.7,791.8 486.3,792.1 485.9,792.5 485.4,793 485,793.4 484.6,793.8 484.1,794.2 483.7,794.7 483.3,795.1 482.8,795.5 482.4,796 482,796.4 481.5,796.9 481.1,797.3 480.7,797.8 480.2,798.3 479.8,798.7 479.4,799.2 478.9,799.6 478.5,800.1 478.1,800.5 477.7,801 477.2,801.4 476.8,801.8 476.4,802.3 475.9,802.7 475.5,803.1 475.1,803.5 474.6,803.9 474.2,804.3 473.8,804.7 473.3,805.1 472.9,805.4 472.5,805.8 472,806.1 471.6,806.5 471.2,806.8 470.7,807.1 470.3,807.4 469.9,807.7 469.5,808 469,808.2 468.6,808.5 468.2,808.7 467.7,809 467.3,809.2 466.9,809.4 466.4,809.6 466,809.8 465.6,809.9 465.1,810.1 464.7,810.2 464.3,810.4 463.8,810.5 463.4,810.6 463,810.7 462.5,810.8 462.1,810.9 461.7,811 461.3,811.1 460.8,811.1 460.4,811.2 460,811.2 459.5,811.3 459.1,811.3 458.7,811.3 458.2,811.3 457.8,811.4 457.4,811.4 456.9,811.4 456.5,811.4 456.1,811.4 455.6,811.4 455.2,811.4 454.8,811.4" stroke="#3a4197" marker-start="url(#nb)" marker-mid="url(#nb)" marker-end="url(#nb)"/>
<polyline points="621.1,811.4 620.6,811.4 620.2,811.4 619.8,811.4 619.3,811.4 618.9,811.4 618.5,811.3 618,811.3 617.6,811.2 617.2,811.1 616.7,811.1 616.3,810.9 615.9,810.8 615.4,810.6 615,810.5 614.6,810.3 614.2,810.1 613.7,809.8 613.3,809.6 612.9,809.3 612.4,809 612,808.7 611.6,808.4 611.1,808 610.7,807.7 610.3,807.3 609.8,807 609.4,806.6 609,806.3 608.5,806 608.1,805.6 607.7,805.3 607.2,805 606.8,804.7 606.4,804.5 605.9,804.2 605.5,804 605.1,803.8 604.7,803.7 604.2,803.6 603.8,803.5 603.4,803.4 602.9,803.4 602.5,803.4 602.1,803.4 601.6,803.5 601.2,803.6 600.8,803.8 600.3,803.9 599.9,804.1 599.5,804.4 599,804.6 598.6,804.9 598.2,805.2 597.7,805.5 597.3,805.8 596.9,806.1 596.5,806.5 596,806.8 595.6,807.2 595.2,807.5 594.7,807.9 594.3,808.2 593.9,808.5 593.4,808.8 593,809.1 592.6,809.4 592.1,809.7 591.7,809.9 591.3,810.2 590.8,810.4 590.4,810.6 590,810.7 589.5,810.9 589.1,811 588.7,811.1 588.3,811.2 587.8,811.3 587.4,811.3 587,811.3 586.5,811.4 586.1,811.4 585.7,811.4 585.2,811.4 584.8,811.4" stroke="#3a4197" marker-start="url(#nb)" marker-mid="url(#nb)" marker-end="url(#nb)"/>
<polyline points="579.2,811.4 578.8,811.4 578.4,811.4 577.9,811.4 577.5,811.4 577.1,811.4 576.6,811.4 576.2,811.3 575.8,811.3 575.3,811.3 574.9,811.2 574.5,811.1 574.1,811.1 573.6,811 573.2,810.9 572.8,810.8 572.3,810.7 571.9,810.6 571.5,810.5 571,810.3 570.6,810.2 570.2,810.1 569.7,809.9 569.3,809.8 568.9,809.7 568.4,809.5 568,809.4 567.6,809.3 567.1,809.2 566.7,809.1 566.3,809 565.8,808.9 565.4,808.9 565,808.8 564.6,808.8 564.1,808.8 563.7,808.8 563.3,808.8 562.8,808.9 562.4,808.9 562,809 561.5,809.1 561.1,809.1 560.7,809.3 560.2,809.4 559.8,809.5 559.4,809.6 558.9,809.7 558.5,809.9 558.1,810 557.6,810.1 557.2,810.3 556.8,810.4 556.4,810.5 555.9,810.6 555.5,810.8 555.1,810.9 554.6,811 554.2,811 553.8,811.1 553.3,811.2 552.9,811.2 552.5,811.3 552,811.3 551.6,811.4 551.2,811.4 550.7,811.4 550.3,811.4 549.9,811.4 549.4,811.4 549,811.4" stroke="#3a4197" marker-start="url(#nb)" marker-mid="url(#nb)" marker-end="url(#nb)"/>
<polyline points="441,811.4 440.5,811.4 440.1,811.4 439.7,811.4 439.2,811.4 438.8,811.4 438.4,811.4 437.9,811.4 437.5,811.3 437.1,811.3 436.6,811.3 436.2,811.3 435.8,811.2 435.3,811.2 434.9,811.1 434.5,811.1 434,811 433.6,810.9 433.2,810.9 432.8,810.8 432.3,810.7 431.9,810.6 431.5,810.5 431,810.4 430.6,810.3 430.2,810.2 429.7,810.1 429.3,809.9 428.9,809.8 428.4,809.7 428,809.5 427.6,809.4 427.1,809.2 426.7,809.1 426.3,809 425.8,808.8 425.4,808.7 425,808.5 424.5,808.4 424.1,808.3 423.7,808.2 423.3,808 422.8,807.9 422.4,807.8 422,807.7 421.5,807.6 421.1,807.5 420.7,807.4 420.2,807.3 419.8,807.3 419.4,807.2 418.9,807.2 418.5,807.1 418.1,807.1 417.6,807.1 417.2,807.1 416.8,807.1 416.3,807.1 415.9,807.1 415.5,807.1 415.1,807.2 414.6,807.2 414.2,807.3 413.8,807.4 413.3,807.4 412.9,807.5 412.5,807.6 412,807.7 411.6,807.8 411.2,808 410.7,808.1 410.3,808.2 409.9,808.3 409.4,808.5 409,808.6 408.6,808.7 408.1,808.9 407.7,809 407.3,809.2 406.9,809.3 406.4,809.4 406,809.6 405.6,809.7 405.1,809.8 404.7,810 404.3,810.1 403.8,810.2 403.4,810.3 403,810.4 402.5,810.5 402.1,810.6 401.7,810.7 401.2,810.8 400.8,810.9 400.4,811 399.9,811 399.5,811.1 399.1,811.2 398.7,811.2 398.2,811.2 397.8,811.3 397.4,811.3 396.9,811.3 396.5,811.4 396.1,811.4 395.6,811.4 395.2,811.4 394.8,811.4 394.3,811.4 393.9,811.4 393.5,811.4 393,811.4" stroke="#3a4197" marker-start="url(#nb)" marker-mid="url(#nb)" marker-end="url(#nb)"/>
<polyline points="758.7,811.4 758.3,811.4 757.8,811.4 757.4,811.4 757,811.3 756.5,811.3 756.1,811.3 755.7,811.2 755.2,811.2 754.8,811.2 754.4,811.1 753.9,811.1 753.5,811 753.1,810.9 752.7,810.9 752.2,810.8 751.8,810.7 751.4,810.6 750.9,810.5 750.5,810.4 750.1,810.3 749.6,810.2 749.2,810 748.8,809.9 748.3,809.8 747.9,809.6 747.5,809.5 747,809.3 746.6,809.2 746.2,809 745.7,808.9 745.3,808.7 744.9,808.6 744.5,808.4 744,808.3 743.6,808.1 743.2,808 742.7,807.8 742.3,807.6 741.9,807.5 741.4,807.4 741,807.2 740.6,807.1 740.1,807 739.7,806.8 739.3,806.7 738.8,806.6 738.4,806.5 738,806.4 737.5,806.3 737.1,806.3 736.7,806.2 736.3,806.1 735.8,806.1 735.4,806 735,806 734.5,806 734.1,806 733.7,806 733.2,806 732.8,806 732.4,806.1 731.9,806.1 731.5,806.1 731.1,806.2 730.6,806.3 730.2,806.4 729.8,806.4 729.3,806.5 728.9,806.6 728.5,806.8 728.1,806.9 727.6,807 727.2,807.1 726.8,807.3 726.3,807.4 725.9,807.5 725.5,807.7 725,807.8 724.6,808 724.2,808.2 723.7,808.3 723.3,808.5 722.9,808.6 722.4,808.8 722,808.9 721.6,809.1 721.1,809.2 720.7,809.4 720.3,809.5 719.9,809.7 719.4,809.8 719,809.9 718.6,810.1 718.1,810.2 717.7,810.3 717.3,810.4 716.8,810.5 716.4,810.6 716,810.7 715.5,810.8 715.1,810.9 714.7,811 714.2,811 713.8,811.1 713.4,811.1 712.9,811.2 712.5,811.2 712.1,811.3 711.7,811.3 711.2,811.3 710.8,811.3 710.4,811.4 709.9,811.4 709.5,811.4 709.1,811.4 708.6,811.4 708.2,811.4 707.8,811.4 707.3,811.4 706.9,811.4" stroke="#3a4197" marker-start="url(#nb)" marker-mid="url(#nb)" marker-end="url(#nb)"/>
<path d="M70.2,811.4H758.5" stroke="#3a4197" stroke-width="10.2"/>
<path d="M632,805.9H703M455,805.9H463" stroke="#c20012" stroke-width="0.7" stroke-opacity="0.8"/>
</g>
<g id="axesB" fill="none">
<path d="M72.9,313.1 H755.8 M72.9,811.4 H755.8" stroke="#1a1a1a" stroke-width="2.7"/>
<path d="M86.56,811.4 v-4.2 M127.53,811.4 v-8.3 M168.51,811.4 v-4.2 M209.48,811.4 v-8.3 M250.45,811.4 v-4.2 M291.43,811.4 v-8.3 M332.40,811.4 v-4.2 M373.38,811.4 v-8.3 M414.35,811.4 v-4.2 M455.32,811.4 v-8.3 M496.30,811.4 v-4.2 M537.27,811.4 v-8.3 M578.25,811.4 v-4.2 M619.22,811.4 v-8.3 M660.19,811.4 v-4.2 M701.17,811.4 v-8.3 M742.14,811.4 v-4.2 " stroke="#1a1a1a" stroke-width="2.7"/>
<path d="M72.9,311.75 V812.75 M72.9,811.4 h8.6 " stroke="#c20012" stroke-width="2.7"/>
<path d="M72.9,766.10 h4.2 M72.9,720.80 h8.3 M72.9,675.50 h4.2 M72.9,630.20 h8.3 M72.9,584.90 h4.2 M72.9,539.60 h8.3 M72.9,494.30 h4.2 M72.9,449.00 h8.3 M72.9,403.70 h4.2 M72.9,358.40 h8.3 " stroke="#c20012" stroke-width="2.7"/>
<path d="M755.8,311.75 V812.75 M755.8,811.4 h-8.8 " stroke="#3a4197" stroke-width="2.7"/>
<path d="M755.8,703.07 h-4.2 M755.8,594.75 h-8.7 M755.8,486.42 h-4.2 M755.8,378.10 h-8.7 " stroke="#3a4197" stroke-width="2.7"/>
</g>
<text transform="translate(46.55,820.30) scale(0.9462,1)" font-size="32.0" fill="#c20012" stroke="#c20012" stroke-width="0.5">0</text>
<text transform="translate(47.42,729.70) scale(0.6581,1)" font-size="32.0" fill="#c20012" stroke="#c20012" stroke-width="0.5">1</text>
<text transform="translate(46.71,639.10) scale(0.9347,1)" font-size="32.0" fill="#c20012" stroke="#c20012" stroke-width="0.5">2</text>
<text transform="translate(47.09,548.50) scale(0.9053,1)" font-size="32.0" fill="#c20012" stroke="#c20012" stroke-width="0.5">3</text>
<text transform="translate(47.34,457.90) scale(0.8401,1)" font-size="32.0" fill="#c20012" stroke="#c20012" stroke-width="0.5">4</text>
<text transform="translate(46.86,367.30) scale(0.9044,1)" font-size="32.0" fill="#c20012" stroke="#c20012" stroke-width="0.5">5</text>
<text transform="translate(764.73,820.30) scale(0.9659,1)" font-size="32.0" fill="#3a4197" stroke="#3a4197" stroke-width="0.5">0</text>
<text transform="translate(765.71,603.65) scale(0.6648,1)" font-size="32.0" fill="#3a4197" stroke="#3a4197" stroke-width="0.5">1</text>
<text transform="translate(764.89,387.00) scale(0.9542,1)" font-size="32.0" fill="#3a4197" stroke="#3a4197" stroke-width="0.5">2</text>
<text transform="translate(93.15,844.50) scale(0.9593,1)" font-size="32.0" fill="#1a1a1a" stroke="#1a1a1a" stroke-width="0.5">1230</text>
<text transform="translate(175.11,844.50) scale(0.9534,1)" font-size="32.0" fill="#1a1a1a" stroke="#1a1a1a" stroke-width="0.5">1245</text>
<text transform="translate(257.04,844.50) scale(0.9593,1)" font-size="32.0" fill="#1a1a1a" stroke="#1a1a1a" stroke-width="0.5">1260</text>
<text transform="translate(339.00,844.50) scale(0.9534,1)" font-size="32.0" fill="#1a1a1a" stroke="#1a1a1a" stroke-width="0.5">1275</text>
<text transform="translate(420.94,844.50) scale(0.9593,1)" font-size="32.0" fill="#1a1a1a" stroke="#1a1a1a" stroke-width="0.5">1290</text>
<text transform="translate(502.90,844.50) scale(0.9534,1)" font-size="32.0" fill="#1a1a1a" stroke="#1a1a1a" stroke-width="0.5">1305</text>
<text transform="translate(584.84,844.50) scale(0.9593,1)" font-size="32.0" fill="#1a1a1a" stroke="#1a1a1a" stroke-width="0.5">1320</text>
<text transform="translate(666.80,844.50) scale(0.9534,1)" font-size="32.0" fill="#1a1a1a" stroke="#1a1a1a" stroke-width="0.5">1335</text>
<text transform="translate(321.52,880.00) scale(0.9735,1)" font-size="31.0" fill="#1a1a1a" stroke="#1a1a1a" stroke-width="0.5">Wavelength(nm)</text>
<text transform="translate(29.80,778.79) rotate(-90) scale(0.9820,1)" font-size="31.0" fill="#c20012" stroke="#c20012" stroke-width="0.5">Field Intensity Amplitude(a.u.)</text>
<text transform="translate(814.80,778.79) rotate(-90) scale(0.9820,1)" font-size="31.0" fill="#3a4197" stroke="#3a4197" stroke-width="0.5">Field Intensity Amplitude(a.u.)</text>
<path d="M552.1,331.65 H561.3000000000001 M575.6999999999999,331.65 H584.9" stroke="#c20012" stroke-width="2.2" fill="none"/>
<path d="M552.1,363.7 H561.3000000000001 M575.6999999999999,363.7 H584.9" stroke="#3a4197" stroke-width="2.2" fill="none"/>
<circle cx="568.25" cy="331.65" r="5.7" fill="#fff" stroke="#c20012" stroke-width="0.8"/>
<circle cx="566.35" cy="329.54999999999995" r="2.3" fill="none" stroke="#c20012" stroke-width="0.8"/>
<rect x="563.3" y="358.75" width="9.9" height="9.9" fill="#fff" stroke="#3a4197" stroke-width="0.8" stroke-opacity="0.75"/>
<text transform="translate(592.03,336.70) scale(0.8636,1)" font-size="26.3" fill="#1a1a1a" stroke="#1a1a1a" stroke-width="0.5">M1</text>
<text transform="translate(591.86,368.80) scale(0.9578,1)" font-size="26.3" fill="#1a1a1a" stroke="#1a1a1a" stroke-width="0.5">M2</text>
<defs><clipPath id="clipC"><rect x="1016.50" y="322.4" width="721.60" height="483.50"/></clipPath></defs>
<g id="axesC" fill="none">
<path d="M1015.3,321.04999999999995 V806.75 M1739.3,321.04999999999995 V806.75 M1015.3,322.4 H1739.3 M1015.3,805.4 H1739.3" stroke="#1a1a1a" stroke-width="2.7"/>
<path d="M1015.3,805.40 h8.3 M1015.3,757.10 h4.0 M1015.3,708.80 h8.3 M1015.3,660.50 h4.0 M1015.3,612.20 h8.3 M1015.3,563.90 h4.0 M1015.3,515.60 h8.3 M1015.3,467.30 h4.0 M1015.3,419.00 h8.3 M1015.3,370.70 h4.0 M1015.3,322.40 h8.3 M1057.89,805.4 v-8.3 M1100.48,805.4 v-4.0 M1143.06,805.4 v-8.3 M1185.65,805.4 v-4.0 M1228.24,805.4 v-8.3 M1270.83,805.4 v-4.0 M1313.42,805.4 v-8.3 M1356.01,805.4 v-4.0 M1398.59,805.4 v-8.3 M1441.18,805.4 v-4.0 M1483.77,805.4 v-8.3 M1526.36,805.4 v-4.0 M1568.95,805.4 v-8.3 M1611.54,805.4 v-4.0 M1654.12,805.4 v-8.3 M1696.71,805.4 v-4.0 " stroke="#1a1a1a" stroke-width="2.7"/>
</g>
<g id="dataC" clip-path="url(#clipC)" fill="none" stroke-width="0.6">
<path d="M1011.0,804.6H1743.6" stroke="#c20012" stroke-width="11.0"/>
<path d="M1011.0,805.4H1743.6" stroke="#3a4197" stroke-width="10.4"/>
<polyline points="1170.9,805.4 1170.3,805.4 1169.6,805.4 1168.9,805.4 1168.3,805.3 1167.6,805.3 1166.9,805.2 1166.3,805.1 1165.6,804.9 1164.9,804.7 1164.3,804.4 1163.6,804.1 1162.9,803.6 1162.3,803.2 1161.6,802.6 1161,801.9 1160.3,801.2 1159.6,800.3 1159,799.4 1158.3,798.3" stroke="#c20012" marker-start="url(#nr)" marker-mid="url(#nr)"/>
<polyline points="1158.3,798.3 1157.6,797.2 1157,795.9 1156.3,794.4 1155.6,792.9 1155,791.2 1154.3,789.4 1153.6,787.5 1153,785.4 1152.3,783.2 1151.7,780.8 1151,778.3 1150.3,775.6 1149.7,772.7 1149,769.8 1148.3,766.6 1147.7,763.3 1147,759.8 1146.3,756.2 1145.7,752.4 1145,748.5 1144.3,744.4 1143.7,740.1 1143,735.7 1142.3,731.2 1141.7,726.4 1141,721.6 1140.4,716.5 1139.7,711.4 1139,706.1 1138.4,700.6 1137.7,695 1137,689.3 1136.4,683.4 1135.7,677.4 1135,671.3 1134.4,665.1 1133.7,658.8 1133,652.3 1132.4,645.8 1131.7,639.1 1131.1,632.4 1130.4,625.6 1129.7,618.7 1129.1,611.7 1128.4,604.7 1127.7,597.6 1127.1,590.5 1126.4,583.3 1125.7,576.1 1125.1,568.8 1124.4,561.6 1123.7,554.3 1123.1,547 1122.4,539.7 1121.8,532.5 1121.1,525.2 1120.4,518 1119.8,510.8 1119.1,503.7 1118.4,496.6 1117.8,489.5 1117.1,482.5 1116.4,475.6 1115.8,468.8 1115.1,462.1 1114.4,455.5 1113.8,448.9 1113.1,442.5 1112.5,436.2 1111.8,430.1 1111.1,424 1110.5,418.2 1109.8,412.4 1109.1,406.8 1108.5,401.4 1107.8,396.2 1107.1,391.1 1106.5,386.2 1105.8,381.6 1105.1,377.1 1104.5,372.8 1103.8,368.7 1103.2,364.8 1102.5,361.1 1101.8,357.7 1101.2,354.4 1100.5,351.5 1099.8,348.7 1099.2,346.2 1098.5,343.9 1097.8,341.8 1097.2,340 1096.5,338.5 1095.8,337.2" stroke="#c20012" marker-start="url(#mr)" marker-mid="url(#mr)"/>
<polyline points="1095.8,337.2 1095.2,336.1 1094.5,335.3 1093.8,334.7 1093.2,334.4 1092.5,334.4 1091.9,334.6 1091.2,335.1 1090.5,335.8 1089.9,336.7" stroke="#c20012" marker-start="url(#nr)" marker-mid="url(#nr)"/>
<polyline points="1089.9,336.7 1089.2,337.9 1088.5,339.4 1087.9,341.1 1087.2,343.1 1086.5,345.3 1085.9,347.7 1085.2,350.4 1084.5,353.3 1083.9,356.4 1083.2,359.8 1082.6,363.3 1081.9,367.1 1081.2,371.2 1080.6,375.4 1079.9,379.8 1079.2,384.4 1078.6,389.2 1077.9,394.2 1077.2,399.4 1076.6,404.7 1075.9,410.3 1075.2,415.9 1074.6,421.8 1073.9,427.7 1073.3,433.8 1072.6,440.1 1071.9,446.5 1071.3,452.9 1070.6,459.5 1069.9,466.2 1069.3,473 1068.6,479.9 1067.9,486.8 1067.3,493.8 1066.6,500.9 1065.9,508.1 1065.3,515.2 1064.6,522.4 1064,529.7 1063.3,536.9 1062.6,544.2 1062,551.5 1061.3,558.8 1060.6,566.1 1060,573.3 1059.3,580.5 1058.6,587.7 1058,594.9 1057.3,602 1056.6,609 1056,616 1055.3,622.9 1054.7,629.8 1054,636.5 1053.3,643.2 1052.7,649.8 1052,656.3 1051.3,662.7 1050.7,668.9 1050,675.1 1049.3,681.1 1048.7,687 1048,692.8 1047.3,698.5 1046.7,704 1046,709.3 1045.4,714.6 1044.7,719.6 1044,724.6 1043.4,729.4 1042.7,734 1042,738.5 1041.4,742.8 1040.7,746.9 1040,750.9 1039.4,754.8 1038.7,758.5 1038,762 1037.4,765.4 1036.7,768.6 1036,771.6 1035.4,774.5 1034.7,777.2 1034.1,779.8 1033.4,782.3 1032.7,784.6 1032.1,786.7 1031.4,788.7 1030.7,790.6 1030.1,792.3 1029.4,793.9 1028.7,795.3 1028.1,796.7 1027.4,797.9" stroke="#c20012" marker-start="url(#mr)" marker-mid="url(#mr)"/>
<polyline points="1027.4,797.9 1026.7,799 1026.1,800 1025.4,800.9 1024.8,801.7 1024.1,802.4 1023.4,803 1022.8,803.5 1022.1,803.9 1021.4,804.3 1020.8,804.6 1020.1,804.8 1019.4,805 1018.8,805.2 1018.1,805.3 1017.4,805.3 1016.8,805.4 1016.1,805.4 1015.5,805.4 1014.8,805.4" stroke="#c20012" marker-start="url(#nr)" marker-mid="url(#nr)" marker-end="url(#nr)"/>
<polyline points="1158.5,805.4 1157.8,805.4 1157.2,805.4 1156.6,805.4 1155.9,805.3 1155.3,805.2 1154.7,805 1154.1,804.8 1153.4,804.6 1152.8,804.2 1152.2,803.8 1151.5,803.3 1150.9,802.7 1150.3,802 1149.6,801.2 1149,800.3 1148.4,799.2" stroke="#3a4197" marker-start="url(#nb)" marker-mid="url(#nb)"/>
<polyline points="1148.4,799.2 1147.7,798 1147.1,796.7 1146.5,795.2 1145.9,793.6 1145.2,791.8 1144.6,789.8 1144,787.7 1143.3,785.4 1142.7,783 1142.1,780.3 1141.4,777.5 1140.8,774.5 1140.2,771.3 1139.6,767.9 1138.9,764.3 1138.3,760.6 1137.7,756.6 1137,752.5 1136.4,748.1 1135.8,743.6 1135.1,738.9 1134.5,734 1133.9,728.9 1133.3,723.6 1132.6,718.1 1132,712.5 1131.4,706.7 1130.7,700.7 1130.1,694.5 1129.5,688.2 1128.8,681.7 1128.2,675.1 1127.6,668.4 1126.9,661.5 1126.3,654.4 1125.7,647.3 1125.1,640 1124.4,632.7 1123.8,625.2 1123.2,617.6 1122.5,610 1121.9,602.3 1121.3,594.5 1120.6,586.7 1120,578.8 1119.4,570.9 1118.8,562.9 1118.1,555 1117.5,547 1116.9,539.1 1116.2,531.1 1115.6,523.2 1115,515.4 1114.3,507.6 1113.7,499.8 1113.1,492.1 1112.5,484.5 1111.8,477 1111.2,469.6 1110.6,462.3 1109.9,455.2 1109.3,448.1 1108.7,441.2 1108,434.5 1107.4,427.9 1106.8,421.5 1106.1,415.3 1105.5,409.3 1104.9,403.5 1104.3,397.9 1103.6,392.5 1103,387.3 1102.4,382.4 1101.7,377.7 1101.1,373.3 1100.5,369.1 1099.8,365.2 1099.2,361.5 1098.6,358.1 1098,355 1097.3,352.2 1096.7,349.7 1096.1,347.5 1095.4,345.5 1094.8,343.9 1094.2,342.5" stroke="#3a4197" marker-start="url(#mb)" marker-mid="url(#mb)"/>
<polyline points="1094.2,342.5 1093.5,341.5 1092.9,340.7 1092.3,340.3 1091.7,340.2 1091,340.4 1090.4,340.8 1089.8,341.6 1089.1,342.7" stroke="#3a4197" marker-start="url(#nb)" marker-mid="url(#nb)"/>
<polyline points="1089.1,342.7 1088.5,344.1 1087.9,345.8 1087.2,347.8 1086.6,350.1 1086,352.7 1085.3,355.5 1084.7,358.7 1084.1,362.1 1083.5,365.8 1082.8,369.8 1082.2,374 1081.6,378.5 1080.9,383.2 1080.3,388.1 1079.7,393.3 1079,398.8 1078.4,404.4 1077.8,410.3 1077.2,416.3 1076.5,422.6 1075.9,429 1075.3,435.6 1074.6,442.3 1074,449.3 1073.4,456.3 1072.7,463.5 1072.1,470.8 1071.5,478.2 1070.9,485.8 1070.2,493.4 1069.6,501.1 1069,508.8 1068.3,516.7 1067.7,524.5 1067.1,532.4 1066.4,540.4 1065.8,548.3 1065.2,556.3 1064.5,564.2 1063.9,572.1 1063.3,580.1 1062.7,587.9 1062,595.8 1061.4,603.5 1060.8,611.2 1060.1,618.9 1059.5,626.4 1058.9,633.9 1058.2,641.2 1057.6,648.5 1057,655.6 1056.4,662.6 1055.7,669.5 1055.1,676.2 1054.5,682.8 1053.8,689.2 1053.2,695.5 1052.6,701.7 1051.9,707.6 1051.3,713.4 1050.7,719 1050.1,724.5 1049.4,729.7 1048.8,734.8 1048.2,739.7 1047.5,744.3 1046.9,748.8 1046.3,753.2 1045.6,757.3 1045,761.2 1044.4,764.9 1043.7,768.5 1043.1,771.8 1042.5,775 1041.9,778 1041.2,780.8 1040.6,783.4 1040,785.8 1039.3,788.1 1038.7,790.2 1038.1,792.1 1037.4,793.8 1036.8,795.4 1036.2,796.9 1035.6,798.2 1034.9,799.4" stroke="#3a4197" marker-start="url(#mb)" marker-mid="url(#mb)"/>
<polyline points="1034.9,799.4 1034.3,800.4 1033.7,801.3 1033,802.1 1032.4,802.8 1031.8,803.4 1031.1,803.9 1030.5,804.3 1029.9,804.6 1029.3,804.9 1028.6,805.1 1028,805.2 1027.4,805.3 1026.7,805.4 1026.1,805.4 1025.5,805.4 1024.8,805.4" stroke="#3a4197" marker-start="url(#nb)" marker-mid="url(#nb)" marker-end="url(#nb)"/>
<path d="M1091.8,335.7v9" stroke="#fff" stroke-width="0.5" stroke-opacity="0.4"/>
<polyline points="1349.1,805.4 1348.5,805.4 1347.8,805.4 1347.1,805.4 1346.5,805.4 1345.8,805.4 1345.1,805.3 1344.5,805.3 1343.8,805.3 1343.1,805.2 1342.5,805.1 1341.8,805.1 1341.1,805 1340.5,804.9 1339.8,804.7 1339.1,804.6 1338.5,804.4 1337.8,804.2 1337.1,804 1336.4,803.7 1335.8,803.5 1335.1,803.2 1334.4,802.9 1333.7,802.5 1333.1,802.1 1332.4,801.7 1331.7,801.3 1331,800.8 1330.4,800.3 1329.7,799.7 1329,799.1 1328.3,798.5 1327.6,797.9 1326.9,797.2 1326.2,796.5 1325.6,795.7 1324.9,794.9 1324.2,794.1 1323.5,793.2 1322.8,792.3 1322.1,791.3 1321.4,790.4 1320.7,789.3 1320,788.3" stroke="#c20012" marker-start="url(#nr)" marker-mid="url(#nr)"/>
<polyline points="1320,788.3 1319.3,787.2 1318.6,786 1317.9,784.8 1317.2,783.6 1316.5,782.3 1315.8,781 1315.1,779.7 1314.4,778.3 1313.7,776.9 1312.9,775.5 1312.2,774 1311.5,772.5 1310.8,771 1310.1,769.4 1309.4,767.8 1308.7,766.1 1307.9,764.5 1307.2,762.8 1306.5,761.1 1305.8,759.3 1305.1,757.5 1304.3,755.7 1303.6,753.9 1302.9,752.1 1302.2,750.2 1301.4,748.3 1300.7,746.4 1300,744.5 1299.3,742.6 1298.5,740.6 1297.8,738.7 1297.1,736.7 1296.4,734.7 1295.6,732.7 1294.9,730.7 1294.2,728.8 1293.4,726.8 1292.7,724.8 1292,722.8 1291.3,720.8 1290.5,718.8 1289.8,716.8 1289.1,714.8 1288.3,712.9 1287.6,710.9 1286.9,709 1286.2,707.1 1285.4,705.2 1284.7,703.3 1284,701.4 1283.3,699.6 1282.5,697.8 1281.8,696 1281.1,694.2 1280.4,692.5 1279.7,690.8 1278.9,689.1 1278.2,687.5 1277.5,685.8 1276.8,684.3 1276.1,682.7 1275.4,681.3 1274.6,679.8 1273.9,678.4 1273.2,677 1272.5,675.7 1271.8,674.4 1271.1,673.2 1270.4,672 1269.7,670.9" stroke="#c20012" marker-start="url(#mr)" marker-mid="url(#mr)"/>
<polyline points="1269.7,670.9 1269,669.8 1268.3,668.8 1267.6,667.8 1266.9,666.9 1266.2,666.1 1265.5,665.3 1264.9,664.5 1264.2,663.8 1263.5,663.2 1262.8,662.6 1262.1,662.1 1261.4,661.7 1260.8,661.3 1260.1,660.9 1259.4,660.7 1258.7,660.4 1258.1,660.3 1257.4,660.2 1256.7,660.2 1256.1,660.2 1255.4,660.3 1254.8,660.5 1254.1,660.7 1253.4,661 1252.8,661.3 1252.1,661.7 1251.5,662.2 1250.8,662.7 1250.2,663.3 1249.6,663.9 1248.9,664.6 1248.3,665.3 1247.6,666.2 1247,667 1246.4,667.9 1245.7,668.9 1245.1,669.9 1244.5,671 1243.8,672.2" stroke="#c20012" marker-start="url(#nr)" marker-mid="url(#nr)"/>
<polyline points="1243.8,672.2 1243.2,673.3 1242.6,674.6 1242,675.8 1241.3,677.2 1240.7,678.5 1240.1,680 1239.5,681.4 1238.9,682.9 1238.3,684.4 1237.6,686 1237,687.6 1236.4,689.3 1235.8,690.9 1235.2,692.7 1234.6,694.4 1234,696.2 1233.4,698 1232.8,699.8 1232.2,701.6 1231.6,703.5 1231,705.4 1230.4,707.3 1229.8,709.2 1229.2,711.1 1228.6,713.1 1228,715 1227.3,717 1226.7,719 1226.1,721 1225.5,723 1224.9,725 1224.3,727 1223.7,729 1223.1,731 1222.5,732.9 1221.9,734.9 1221.3,736.9 1220.7,738.9 1220.1,740.8 1219.5,742.8 1218.9,744.7 1218.3,746.6 1217.7,748.5 1217.1,750.4 1216.5,752.3 1215.9,754.1 1215.3,755.9 1214.7,757.7 1214.1,759.5 1213.5,761.2 1212.9,763 1212.3,764.7 1211.7,766.3 1211.1,768 1210.4,769.6 1209.8,771.1 1209.2,772.7 1208.6,774.2 1208,775.6 1207.4,777.1 1206.7,778.5 1206.1,779.9 1205.5,781.2 1204.9,782.5 1204.3,783.7 1203.6,784.9 1203,786.1 1202.4,787.3" stroke="#c20012" marker-start="url(#mr)" marker-mid="url(#mr)"/>
<polyline points="1202.4,787.3 1201.7,788.4 1201.1,789.4 1200.5,790.5 1199.9,791.4 1199.2,792.4 1198.6,793.3 1197.9,794.2 1197.3,795 1196.7,795.8 1196,796.6 1195.4,797.3 1194.7,798 1194.1,798.6 1193.5,799.2 1192.8,799.8 1192.2,800.3 1191.5,800.8 1190.9,801.3 1190.2,801.7 1189.6,802.2 1188.9,802.5 1188.3,802.9 1187.6,803.2 1187,803.5 1186.3,803.8 1185.6,804 1185,804.2 1184.3,804.4 1183.7,804.6 1183,804.7 1182.3,804.9 1181.7,805 1181,805.1 1180.4,805.2 1179.7,805.2 1179,805.3 1178.4,805.3 1177.7,805.3 1177,805.4 1176.4,805.4 1175.7,805.4 1175.1,805.4 1174.4,805.4 1173.7,805.4" stroke="#c20012" marker-start="url(#nr)" marker-mid="url(#nr)" marker-end="url(#nr)"/>
<polyline points="1326.4,805.4 1325.7,805.4 1325.1,805.4 1324.5,805.4 1323.9,805.4 1323.2,805.3 1322.6,805.3 1322,805.2 1321.3,805.1 1320.7,805 1320.1,804.8 1319.4,804.7 1318.8,804.4 1318.2,804.2 1317.5,803.9 1316.9,803.5 1316.3,803.1 1315.7,802.7 1315,802.2 1314.4,801.6 1313.8,801 1313.1,800.3 1312.5,799.6 1311.9,798.8 1311.2,797.9 1310.6,796.9 1310,795.9 1309.4,794.9" stroke="#3a4197" marker-start="url(#nb)" marker-mid="url(#nb)"/>
<polyline points="1309.4,794.9 1308.7,793.7 1308.1,792.5 1307.5,791.2 1306.8,789.8 1306.2,788.4 1305.6,786.8 1304.9,785.3 1304.3,783.6 1303.7,781.8 1303.1,780 1302.4,778.1 1301.8,776.2 1301.2,774.1 1300.5,772 1299.9,769.9 1299.3,767.6 1298.6,765.3 1298,762.9 1297.4,760.5 1296.7,758 1296.1,755.5 1295.5,752.9 1294.9,750.2 1294.2,747.5 1293.6,744.8 1293,742 1292.3,739.1 1291.7,736.3 1291.1,733.4 1290.4,730.4 1289.8,727.5 1289.2,724.5 1288.6,721.5 1287.9,718.5 1287.3,715.5 1286.7,712.4 1286,709.4 1285.4,706.4 1284.8,703.3 1284.1,700.3 1283.5,697.3 1282.9,694.3 1282.3,691.4 1281.6,688.4 1281,685.5 1280.4,682.6 1279.7,679.8 1279.1,677 1278.5,674.3 1277.8,671.6 1277.2,668.9 1276.6,666.4 1275.9,663.8 1275.3,661.4 1274.7,659 1274.1,656.7 1273.4,654.5 1272.8,652.4 1272.2,650.3 1271.5,648.3 1270.9,646.5 1270.3,644.7 1269.6,643 1269,641.4 1268.4,639.9 1267.8,638.5 1267.1,637.2 1266.5,636.1" stroke="#3a4197" marker-start="url(#mb)" marker-mid="url(#mb)"/>
<polyline points="1266.5,636.1 1265.9,635 1265.2,634.1 1264.6,633.2 1264,632.5 1263.3,631.9 1262.7,631.4 1262.1,631.1 1261.5,630.8 1260.8,630.7 1260.2,630.7 1259.6,630.8 1258.9,631 1258.3,631.4 1257.7,631.8 1257,632.4 1256.4,633.1 1255.8,633.9 1255.1,634.8 1254.5,635.8" stroke="#3a4197" marker-start="url(#nb)" marker-mid="url(#nb)"/>
<polyline points="1254.5,635.8 1253.9,637 1253.3,638.2 1252.6,639.6 1252,641.1 1251.4,642.6 1250.7,644.3 1250.1,646.1 1249.5,647.9 1248.8,649.9 1248.2,651.9 1247.6,654 1247,656.2 1246.3,658.5 1245.7,660.9 1245.1,663.3 1244.4,665.8 1243.8,668.4 1243.2,671 1242.5,673.7 1241.9,676.4 1241.3,679.2 1240.7,682 1240,684.9 1239.4,687.8 1238.8,690.7 1238.1,693.7 1237.5,696.7 1236.9,699.7 1236.2,702.7 1235.6,705.7 1235,708.7 1234.3,711.8 1233.7,714.8 1233.1,717.8 1232.5,720.9 1231.8,723.9 1231.2,726.8 1230.6,729.8 1229.9,732.7 1229.3,735.7 1228.7,738.5 1228,741.4 1227.4,744.2 1226.8,746.9 1226.2,749.6 1225.5,752.3 1224.9,754.9 1224.3,757.5 1223.6,760 1223,762.4 1222.4,764.8 1221.7,767.1 1221.1,769.4 1220.5,771.6 1219.9,773.7 1219.2,775.7 1218.6,777.7 1218,779.6 1217.3,781.5 1216.7,783.2 1216.1,784.9 1215.4,786.5 1214.8,788 1214.2,789.5 1213.5,790.9 1212.9,792.2 1212.3,793.4 1211.7,794.6" stroke="#3a4197" marker-start="url(#mb)" marker-mid="url(#mb)"/>
<polyline points="1211.7,794.6 1211,795.7 1210.4,796.7 1209.8,797.7 1209.1,798.6 1208.5,799.4 1207.9,800.2 1207.2,800.8 1206.6,801.5 1206,802.1 1205.4,802.6 1204.7,803 1204.1,803.4 1203.5,803.8 1202.8,804.1 1202.2,804.4 1201.6,804.6 1200.9,804.8 1200.3,805 1199.7,805.1 1199.1,805.2 1198.4,805.3 1197.8,805.3 1197.2,805.4 1196.5,805.4 1195.9,805.4 1195.3,805.4 1194.6,805.4" stroke="#3a4197" marker-start="url(#nb)" marker-mid="url(#nb)" marker-end="url(#nb)"/>
<polyline points="1492.7,805.4 1492.1,805.4 1491.5,805.4 1490.8,805.4 1490.2,805.4 1489.6,805.4 1488.9,805.4 1488.3,805.4 1487.7,805.3 1487,805.3 1486.4,805.3 1485.8,805.2 1485.2,805.2 1484.5,805.1 1483.9,805 1483.3,804.9 1482.6,804.8 1482,804.7 1481.4,804.6 1480.7,804.4 1480.1,804.3 1479.5,804.1 1478.8,803.9 1478.2,803.7 1477.6,803.5 1477,803.3 1476.3,803 1475.7,802.7 1475.1,802.4 1474.4,802.1 1473.8,801.8 1473.2,801.4 1472.5,801.1 1471.9,800.7 1471.3,800.2 1470.7,799.8 1470,799.3 1469.4,798.9 1468.8,798.4 1468.1,797.8 1467.5,797.3 1466.9,796.7 1466.2,796.1 1465.6,795.5 1465,794.9 1464.4,794.2 1463.7,793.6 1463.1,792.9 1462.5,792.2 1461.8,791.4 1461.2,790.7 1460.6,789.9 1459.9,789.1 1459.3,788.3 1458.7,787.5 1458,786.6 1457.4,785.8 1456.8,784.9 1456.2,784 1455.5,783.1 1454.9,782.1 1454.3,781.2 1453.6,780.2 1453,779.3 1452.4,778.3 1451.7,777.3 1451.1,776.3 1450.5,775.3 1449.9,774.3 1449.2,773.3 1448.6,772.2 1448,771.2 1447.3,770.2 1446.7,769.1 1446.1,768.1 1445.4,767 1444.8,766 1444.2,764.9 1443.6,763.9 1442.9,762.8 1442.3,761.8 1441.7,760.7 1441,759.7 1440.4,758.6 1439.8,757.6 1439.1,756.6 1438.5,755.6 1437.9,754.6 1437.2,753.6 1436.6,752.6 1436,751.7 1435.4,750.7 1434.7,749.8 1434.1,748.9 1433.5,748 1432.8,747.1 1432.2,746.3 1431.6,745.4 1430.9,744.6 1430.3,743.8 1429.7,743 1429.1,742.3 1428.4,741.5 1427.8,740.8 1427.2,740.2 1426.5,739.5 1425.9,738.9 1425.3,738.3 1424.6,737.7 1424,737.2 1423.4,736.7 1422.8,736.2 1422.1,735.7 1421.5,735.3 1420.9,734.9 1420.2,734.6 1419.6,734.3 1419,734 1418.3,733.7 1417.7,733.5 1417.1,733.3 1416.4,733.2 1415.8,733 1415.2,733 1414.6,732.9 1413.9,732.9 1413.3,732.9 1412.7,733 1412,733 1411.4,733.2 1410.8,733.3 1410.1,733.5 1409.5,733.7 1408.9,734 1408.3,734.3 1407.6,734.6 1407,734.9 1406.4,735.3 1405.7,735.7 1405.1,736.2 1404.5,736.7 1403.8,737.2 1403.2,737.7 1402.6,738.3 1402,738.9 1401.3,739.5 1400.7,740.2 1400.1,740.8 1399.4,741.5 1398.8,742.3 1398.2,743 1397.5,743.8 1396.9,744.6 1396.3,745.4 1395.6,746.3 1395,747.1 1394.4,748 1393.8,748.9 1393.1,749.8 1392.5,750.7 1391.9,751.7 1391.2,752.6 1390.6,753.6 1390,754.6 1389.3,755.6 1388.7,756.6 1388.1,757.6 1387.5,758.6 1386.8,759.7 1386.2,760.7 1385.6,761.8 1384.9,762.8 1384.3,763.9 1383.7,764.9 1383,766 1382.4,767 1381.8,768.1 1381.1,769.1 1380.5,770.2 1379.9,771.2 1379.3,772.2 1378.6,773.3 1378,774.3 1377.4,775.3 1376.7,776.3 1376.1,777.3 1375.5,778.3 1374.8,779.3 1374.2,780.2 1373.6,781.2 1373,782.1 1372.3,783.1 1371.7,784 1371.1,784.9 1370.4,785.8 1369.8,786.6 1369.2,787.5 1368.5,788.3 1367.9,789.1 1367.3,789.9 1366.7,790.7 1366,791.4 1365.4,792.2 1364.8,792.9 1364.1,793.6 1363.5,794.2 1362.9,794.9 1362.2,795.5 1361.6,796.1 1361,796.7 1360.3,797.3 1359.7,797.8 1359.1,798.4 1358.5,798.9 1357.8,799.3 1357.2,799.8 1356.6,800.2 1355.9,800.7 1355.3,801.1 1354.7,801.4 1354,801.8 1353.4,802.1 1352.8,802.4 1352.2,802.7 1351.5,803 1350.9,803.3 1350.3,803.5 1349.6,803.7 1349,803.9 1348.4,804.1 1347.7,804.3 1347.1,804.4 1346.5,804.6 1345.9,804.7 1345.2,804.8 1344.6,804.9 1344,805 1343.3,805.1 1342.7,805.2 1342.1,805.2 1341.4,805.3 1340.8,805.3 1340.2,805.3 1339.5,805.4 1338.9,805.4 1338.3,805.4 1337.7,805.4 1337,805.4 1336.4,805.4 1335.8,805.4 1335.1,805.4" stroke="#3a4197" marker-start="url(#nb)" marker-mid="url(#nb)" marker-end="url(#nb)"/>
<path d="M1357.6,795.0v9M1403.9,732.7v9M1415.4,728.5v9M1473.2,797.0v9" stroke="#fff" stroke-width="0.5" stroke-opacity="0.4"/>
<polyline points="1495.2,805.4 1494.6,805.4 1493.9,805.4 1493.2,805.4 1492.6,805.4 1491.9,805.4 1491.2,805.3 1490.6,805.3 1489.9,805.2 1489.3,805.2 1488.6,805.1 1487.9,805 1487.3,804.9 1486.6,804.8 1485.9,804.6 1485.3,804.5 1484.6,804.3 1483.9,804.1 1483.3,803.9 1482.6,803.6 1481.9,803.3 1481.3,803 1480.6,802.6 1480,802.3 1479.3,801.9 1478.6,801.4 1478,801 1477.3,800.5 1476.6,799.9 1476,799.4 1475.3,798.8 1474.6,798.1 1474,797.5 1473.3,796.7 1472.6,796 1472,795.2 1471.3,794.4 1470.7,793.5 1470,792.6 1469.3,791.7 1468.7,790.7 1468,789.7 1467.3,788.7 1466.7,787.6" stroke="#c20012" marker-start="url(#nr)" marker-mid="url(#nr)"/>
<polyline points="1466.7,787.6 1466,786.5 1465.3,785.3 1464.7,784.1 1464,782.9 1463.3,781.6 1462.7,780.3 1462,779 1461.4,777.6 1460.7,776.2 1460,774.8 1459.4,773.3 1458.7,771.8 1458,770.3 1457.4,768.7 1456.7,767.2 1456,765.6 1455.4,763.9 1454.7,762.3 1454,760.6 1453.4,758.9 1452.7,757.2 1452.1,755.5 1451.4,753.8 1450.7,752 1450.1,750.2 1449.4,748.4 1448.7,746.6 1448.1,744.8 1447.4,743 1446.7,741.2 1446.1,739.4 1445.4,737.6 1444.7,735.8 1444.1,734 1443.4,732.2 1442.7,730.3 1442.1,728.6 1441.4,726.8 1440.8,725 1440.1,723.2 1439.4,721.5 1438.8,719.7 1438.1,718 1437.4,716.3 1436.8,714.7 1436.1,713 1435.4,711.4 1434.8,709.8 1434.1,708.2 1433.4,706.7 1432.8,705.2 1432.1,703.7 1431.5,702.3 1430.8,700.9 1430.1,699.5 1429.5,698.2 1428.8,696.9 1428.1,695.7 1427.5,694.5 1426.8,693.3" stroke="#c20012" marker-start="url(#mr)" marker-mid="url(#mr)"/>
<polyline points="1426.8,693.3 1426.1,692.2 1425.5,691.2 1424.8,690.2 1424.1,689.2 1423.5,688.3 1422.8,687.5 1422.2,686.7 1421.5,685.9 1420.8,685.3 1420.2,684.6 1419.5,684 1418.8,683.5 1418.2,683.1 1417.5,682.7 1416.8,682.3 1416.2,682 1415.5,681.8 1414.8,681.6 1414.2,681.5 1413.5,681.5 1412.9,681.5 1412.2,681.6 1411.5,681.7 1410.9,681.9 1410.2,682.1 1409.5,682.5 1408.9,682.8 1408.2,683.3 1407.5,683.7 1406.9,684.3 1406.2,684.9 1405.5,685.5 1404.9,686.3 1404.2,687 1403.6,687.8 1402.9,688.7 1402.2,689.6 1401.6,690.6 1400.9,691.6 1400.2,692.7" stroke="#c20012" marker-start="url(#nr)" marker-mid="url(#nr)"/>
<polyline points="1400.2,692.7 1399.6,693.8 1398.9,695 1398.2,696.2 1397.6,697.5 1396.9,698.8 1396.2,700.1 1395.6,701.5 1394.9,702.9 1394.3,704.3 1393.6,705.8 1392.9,707.4 1392.3,708.9 1391.6,710.5 1390.9,712.1 1390.3,713.7 1389.6,715.4 1388.9,717.1 1388.3,718.8 1387.6,720.5 1386.9,722.2 1386.3,724 1385.6,725.8 1384.9,727.5 1384.3,729.3 1383.6,731.1 1383,732.9 1382.3,734.8 1381.6,736.6 1381,738.4 1380.3,740.2 1379.6,742 1379,743.8 1378.3,745.6 1377.6,747.4 1377,749.2 1376.3,751 1375.6,752.8 1375,754.5 1374.3,756.2 1373.7,758 1373,759.7 1372.3,761.4 1371.7,763 1371,764.7 1370.3,766.3 1369.7,767.9 1369,769.4 1368.3,771 1367.7,772.5 1367,773.9 1366.3,775.4 1365.7,776.8 1365,778.2 1364.4,779.6 1363.7,780.9 1363,782.2 1362.4,783.4 1361.7,784.6 1361,785.8 1360.4,786.9" stroke="#c20012" marker-start="url(#mr)" marker-mid="url(#mr)"/>
<polyline points="1360.4,786.9 1359.7,788.1 1359,789.1 1358.4,790.2 1357.7,791.1 1357,792.1 1356.4,793 1355.7,793.9 1355.1,794.7 1354.4,795.6 1353.7,796.3 1353.1,797.1 1352.4,797.8 1351.7,798.4 1351.1,799 1350.4,799.6 1349.7,800.2 1349.1,800.7 1348.4,801.2 1347.7,801.6 1347.1,802.1 1346.4,802.4 1345.8,802.8 1345.1,803.1 1344.4,803.4 1343.8,803.7 1343.1,804 1342.4,804.2 1341.8,804.4 1341.1,804.6 1340.4,804.7 1339.8,804.9 1339.1,805 1338.4,805.1 1337.8,805.1 1337.1,805.2 1336.4,805.3 1335.8,805.3 1335.1,805.3 1334.5,805.4 1333.8,805.4 1333.1,805.4 1332.5,805.4 1331.8,805.4 1331.1,805.4" stroke="#c20012" marker-start="url(#nr)" marker-mid="url(#nr)" marker-end="url(#nr)"/>
<polyline points="1617.3,805.4 1616.6,805.4 1616,805.4 1615.4,805.4 1614.7,805.4 1614.1,805.4 1613.5,805.4 1612.8,805.4 1612.2,805.4 1611.6,805.4 1611,805.3 1610.3,805.3 1609.7,805.3 1609.1,805.3 1608.4,805.2 1607.8,805.2 1607.2,805.1 1606.5,805.1 1605.9,805 1605.3,805 1604.7,804.9 1604,804.8 1603.4,804.7 1602.8,804.7 1602.1,804.6 1601.5,804.5 1600.9,804.3 1600.2,804.2 1599.6,804.1 1599,804 1598.3,803.8 1597.7,803.7 1597.1,803.5 1596.5,803.3 1595.8,803.2 1595.2,803 1594.6,802.8 1593.9,802.6 1593.3,802.4 1592.7,802.1 1592,801.9 1591.4,801.7 1590.8,801.4 1590.2,801.2 1589.5,800.9 1588.9,800.7 1588.3,800.4 1587.6,800.1 1587,799.9 1586.4,799.6 1585.7,799.3 1585.1,799 1584.5,798.7 1583.9,798.4 1583.2,798.1 1582.6,797.8 1582,797.5 1581.3,797.1 1580.7,796.8 1580.1,796.5 1579.4,796.2 1578.8,795.8 1578.2,795.5 1577.5,795.2 1576.9,794.9 1576.3,794.6 1575.7,794.2 1575,793.9 1574.4,793.6 1573.8,793.3 1573.1,793 1572.5,792.7 1571.9,792.4 1571.2,792.1 1570.6,791.8 1570,791.5 1569.4,791.2 1568.7,790.9 1568.1,790.7 1567.5,790.4 1566.8,790.2 1566.2,789.9 1565.6,789.7 1564.9,789.5 1564.3,789.2 1563.7,789 1563.1,788.8 1562.4,788.7 1561.8,788.5 1561.2,788.3 1560.5,788.2 1559.9,788 1559.3,787.9 1558.6,787.8 1558,787.7 1557.4,787.6 1556.7,787.5 1556.1,787.4 1555.5,787.4 1554.9,787.3 1554.2,787.3 1553.6,787.3 1553,787.3 1552.3,787.3 1551.7,787.3 1551.1,787.4 1550.4,787.4 1549.8,787.5 1549.2,787.6 1548.6,787.6 1547.9,787.7 1547.3,787.9 1546.7,788 1546,788.1 1545.4,788.3 1544.8,788.4 1544.1,788.6 1543.5,788.8 1542.9,789 1542.3,789.2 1541.6,789.4 1541,789.6 1540.4,789.8 1539.7,790.1 1539.1,790.3 1538.5,790.6 1537.8,790.9 1537.2,791.1 1536.6,791.4 1535.9,791.7 1535.3,792 1534.7,792.3 1534.1,792.6 1533.4,792.9 1532.8,793.2 1532.2,793.5 1531.5,793.8 1530.9,794.1 1530.3,794.5 1529.6,794.8 1529,795.1 1528.4,795.4 1527.8,795.8 1527.1,796.1 1526.5,796.4 1525.9,796.7 1525.2,797 1524.6,797.4 1524,797.7 1523.3,798 1522.7,798.3 1522.1,798.6 1521.5,798.9 1520.8,799.2 1520.2,799.5 1519.6,799.8 1518.9,800.1 1518.3,800.3 1517.7,800.6 1517,800.9 1516.4,801.1 1515.8,801.4 1515.1,801.6 1514.5,801.8 1513.9,802.1 1513.3,802.3 1512.6,802.5 1512,802.7 1511.4,802.9 1510.7,803.1 1510.1,803.3 1509.5,803.4 1508.8,803.6 1508.2,803.8 1507.6,803.9 1507,804.1 1506.3,804.2 1505.7,804.3 1505.1,804.4 1504.4,804.5 1503.8,804.6 1503.2,804.7 1502.5,804.8 1501.9,804.9 1501.3,805 1500.7,805 1500,805.1 1499.4,805.1 1498.8,805.2 1498.1,805.2 1497.5,805.3 1496.9,805.3 1496.2,805.3 1495.6,805.3 1495,805.4 1494.3,805.4 1493.7,805.4 1493.1,805.4 1492.5,805.4 1491.8,805.4 1491.2,805.4 1490.6,805.4 1489.9,805.4 1489.3,805.4" stroke="#3a4197" marker-start="url(#nb)" marker-mid="url(#nb)" marker-end="url(#nb)"/>
<path d="M1519.5,795.3v9M1531.0,789.6v9M1542.6,784.6v9M1554.2,782.8v9M1565.7,785.2v9M1577.3,790.6v9M1588.8,796.2v9" stroke="#fff" stroke-width="0.5" stroke-opacity="0.4"/>
<polyline points="1621.4,805.4 1620.8,805.4 1620.1,805.4 1619.5,805.4 1618.8,805.4 1618.1,805.4 1617.5,805.4 1616.8,805.4 1616.1,805.3 1615.5,805.3 1614.8,805.3 1614.1,805.2 1613.5,805.2 1612.8,805.1 1612.1,805.1 1611.5,805 1610.8,804.9 1610.1,804.8 1609.4,804.7 1608.8,804.6 1608.1,804.5 1607.4,804.3 1606.7,804.2 1606.1,804 1605.4,803.8 1604.7,803.6 1604,803.4 1603.3,803.2 1602.7,803 1602,802.7 1601.3,802.4 1600.6,802.2 1599.9,801.9 1599.2,801.5 1598.5,801.2 1597.8,800.9 1597.1,800.5 1596.4,800.1 1595.7,799.7 1595.1,799.3 1594.4,798.9 1593.7,798.4 1593,798 1592.2,797.5 1591.5,797 1590.8,796.5 1590.1,796 1589.4,795.5 1588.7,795 1588,794.4 1587.3,793.9 1586.6,793.3 1585.9,792.7 1585.2,792.1 1584.5,791.5 1583.7,790.9 1583,790.3 1582.3,789.7 1581.6,789 1580.9,788.4 1580.2,787.8 1579.5,787.1 1578.7,786.5 1578,785.8 1577.3,785.2 1576.6,784.5 1575.9,783.9 1575.2,783.2 1574.4,782.6 1573.7,781.9 1573,781.3 1572.3,780.7 1571.6,780 1570.9,779.4 1570.1,778.8 1569.4,778.2 1568.7,777.6 1568,777 1567.3,776.4 1566.6,775.8 1565.9,775.3 1565.2,774.7 1564.5,774.2 1563.8,773.7 1563.1,773.2 1562.4,772.7 1561.6,772.2 1560.9,771.8 1560.2,771.3 1559.6,770.9 1558.9,770.5 1558.2,770.1 1557.5,769.8 1556.8,769.4 1556.1,769.1 1555.4,768.8 1554.7,768.6 1554,768.3 1553.3,768.1 1552.7,767.9 1552,767.7 1551.3,767.6 1550.6,767.4 1550,767.3 1549.3,767.3 1548.6,767.2 1548,767.2 1547.3,767.2 1546.6,767.2 1546,767.3 1545.3,767.3 1544.7,767.4 1544,767.5 1543.3,767.7 1542.7,767.9 1542.1,768.1 1541.4,768.3 1540.8,768.5 1540.1,768.8 1539.5,769.1 1538.8,769.4 1538.2,769.7 1537.6,770.1 1536.9,770.4 1536.3,770.8 1535.7,771.2 1535,771.7 1534.4,772.1 1533.8,772.6 1533.2,773.1 1532.5,773.6 1531.9,774.1 1531.3,774.6 1530.7,775.2 1530,775.7 1529.4,776.3 1528.8,776.9 1528.2,777.5 1527.6,778.1 1527,778.7 1526.3,779.3 1525.7,779.9 1525.1,780.5 1524.5,781.2 1523.9,781.8 1523.3,782.5 1522.7,783.1 1522.1,783.8 1521.4,784.4 1520.8,785.1 1520.2,785.7 1519.6,786.4 1519,787 1518.4,787.7 1517.8,788.3 1517.2,788.9 1516.5,789.6 1515.9,790.2 1515.3,790.8 1514.7,791.4 1514.1,792 1513.5,792.6 1512.8,793.2 1512.2,793.8 1511.6,794.3 1511,794.9 1510.4,795.4 1509.7,795.9 1509.1,796.4 1508.5,796.9 1507.9,797.4 1507.2,797.9 1506.6,798.4 1506,798.8 1505.4,799.2 1504.7,799.6 1504.1,800 1503.5,800.4 1502.8,800.8 1502.2,801.1 1501.5,801.5 1500.9,801.8 1500.3,802.1 1499.6,802.4 1499,802.7 1498.3,802.9 1497.7,803.2 1497.1,803.4 1496.4,803.6 1495.8,803.8 1495.1,804 1494.5,804.2 1493.8,804.3 1493.1,804.5 1492.5,804.6 1491.8,804.7 1491.2,804.8 1490.5,804.9 1489.9,805 1489.2,805.1 1488.6,805.1 1487.9,805.2 1487.2,805.2 1486.6,805.3 1485.9,805.3 1485.2,805.3 1484.6,805.4 1483.9,805.4 1483.3,805.4 1482.6,805.4 1481.9,805.4 1481.3,805.4 1480.6,805.4 1479.9,805.4" stroke="#c20012" marker-start="url(#nr)" marker-mid="url(#nr)" marker-end="url(#nr)"/>
<polyline points="1330.7,805.4 1330,805.4 1329.3,805.4 1328.7,805.4 1328,805.4 1327.4,805.4 1326.7,805.4 1326,805.4 1325.4,805.4 1324.7,805.4 1324,805.4 1323.4,805.3 1322.7,805.3 1322,805.3 1321.4,805.3 1320.7,805.2 1320,805.2 1319.4,805.2 1318.7,805.1 1318.1,805.1 1317.4,805 1316.7,805 1316.1,804.9 1315.4,804.8 1314.7,804.7 1314.1,804.7 1313.4,804.6 1312.7,804.5 1312.1,804.4 1311.4,804.3 1310.7,804.2 1310.1,804.1 1309.4,804 1308.7,803.8 1308.1,803.7 1307.4,803.6 1306.8,803.4 1306.1,803.3 1305.4,803.2 1304.8,803 1304.1,802.8 1303.4,802.7 1302.8,802.5 1302.1,802.4 1301.4,802.2 1300.8,802 1300.1,801.9 1299.4,801.7 1298.8,801.5 1298.1,801.3 1297.5,801.2 1296.8,801 1296.1,800.8 1295.5,800.6 1294.8,800.5 1294.1,800.3 1293.5,800.1 1292.8,799.9 1292.1,799.8 1291.5,799.6 1290.8,799.4 1290.1,799.3 1289.5,799.1 1288.8,799 1288.2,798.8 1287.5,798.7 1286.8,798.6 1286.2,798.4 1285.5,798.3 1284.8,798.2 1284.2,798.1 1283.5,798 1282.8,797.9 1282.2,797.8 1281.5,797.7 1280.8,797.6 1280.2,797.5 1279.5,797.5 1278.9,797.4 1278.2,797.4 1277.5,797.3 1276.9,797.3 1276.2,797.3 1275.5,797.3 1274.9,797.3 1274.2,797.3 1273.5,797.3 1272.9,797.3 1272.2,797.4 1271.5,797.4 1270.9,797.5 1270.2,797.5 1269.6,797.6 1268.9,797.7 1268.2,797.7 1267.6,797.8 1266.9,797.9 1266.2,798 1265.6,798.1 1264.9,798.3 1264.2,798.4 1263.6,798.5 1262.9,798.6 1262.2,798.8 1261.6,798.9 1260.9,799.1 1260.3,799.2 1259.6,799.4 1258.9,799.6 1258.3,799.7 1257.6,799.9 1256.9,800.1 1256.3,800.2 1255.6,800.4 1254.9,800.6 1254.3,800.8 1253.6,800.9 1252.9,801.1 1252.3,801.3 1251.6,801.5 1250.9,801.6 1250.3,801.8 1249.6,802 1249,802.1 1248.3,802.3 1247.6,802.5 1247,802.6 1246.3,802.8 1245.6,803 1245,803.1 1244.3,803.3 1243.6,803.4 1243,803.5 1242.3,803.7 1241.6,803.8 1241,803.9 1240.3,804 1239.7,804.2 1239,804.3 1238.3,804.4 1237.7,804.5 1237,804.6 1236.3,804.6 1235.7,804.7 1235,804.8 1234.3,804.9 1233.7,804.9 1233,805 1232.3,805.1 1231.7,805.1 1231,805.1 1230.4,805.2 1229.7,805.2 1229,805.3 1228.4,805.3 1227.7,805.3 1227,805.3 1226.4,805.3 1225.7,805.4 1225,805.4 1224.4,805.4 1223.7,805.4 1223,805.4 1222.4,805.4 1221.7,805.4 1221.1,805.4 1220.4,805.4 1219.7,805.4" stroke="#c20012" marker-start="url(#nr)" marker-mid="url(#nr)" marker-end="url(#nr)"/>
<polyline points="1490.5,805.4 1489.9,805.4 1489.2,805.4 1488.6,805.4 1488,805.4 1487.3,805.4 1486.7,805.4 1486.1,805.4 1485.5,805.3 1484.8,805.3 1484.2,805.3 1483.6,805.3 1482.9,805.2 1482.3,805.2 1481.7,805.1 1481,805 1480.4,805 1479.8,804.9 1479.2,804.8 1478.5,804.7 1477.9,804.6 1477.3,804.5 1476.6,804.4 1476,804.2 1475.4,804.1 1474.7,803.9 1474.1,803.8 1473.5,803.6 1472.9,803.4 1472.2,803.2 1471.6,803 1471,802.8 1470.3,802.6 1469.7,802.4 1469.1,802.2 1468.4,802 1467.8,801.8 1467.2,801.5 1466.5,801.3 1465.9,801.1 1465.3,800.8 1464.7,800.6 1464,800.4 1463.4,800.1 1462.8,799.9 1462.1,799.7 1461.5,799.4 1460.9,799.2 1460.2,799 1459.6,798.8 1459,798.6 1458.4,798.4 1457.7,798.2 1457.1,798 1456.5,797.8 1455.8,797.7 1455.2,797.5 1454.6,797.4 1453.9,797.2 1453.3,797.1 1452.7,797 1452.1,796.9 1451.4,796.8 1450.8,796.7 1450.2,796.7 1449.5,796.7 1448.9,796.6 1448.3,796.6 1447.6,796.6 1447,796.6 1446.4,796.7 1445.7,796.7 1445.1,796.8 1444.5,796.8 1443.9,796.9 1443.2,797 1442.6,797.1 1442,797.2 1441.3,797.4 1440.7,797.5 1440.1,797.7 1439.4,797.8 1438.8,798 1438.2,798.2 1437.6,798.4 1436.9,798.6 1436.3,798.8 1435.7,799 1435,799.2 1434.4,799.5 1433.8,799.7 1433.1,799.9 1432.5,800.2 1431.9,800.4 1431.3,800.6 1430.6,800.9 1430,801.1 1429.4,801.3 1428.7,801.6 1428.1,801.8 1427.5,802 1426.8,802.2 1426.2,802.5 1425.6,802.7 1424.9,802.9 1424.3,803.1 1423.7,803.3 1423.1,803.4 1422.4,803.6 1421.8,803.8 1421.2,803.9 1420.5,804.1 1419.9,804.2 1419.3,804.4 1418.6,804.5 1418,804.6 1417.4,804.7 1416.8,804.8 1416.1,804.9 1415.5,805 1414.9,805 1414.2,805.1 1413.6,805.2 1413,805.2 1412.3,805.3 1411.7,805.3 1411.1,805.3 1410.5,805.3 1409.8,805.4 1409.2,805.4 1408.6,805.4 1407.9,805.4 1407.3,805.4 1406.7,805.4 1406,805.4 1405.4,805.4" stroke="#3a4197" marker-start="url(#nb)" marker-mid="url(#nb)" marker-end="url(#nb)"/>
<path d="M1438.6,793.6v9M1450.1,792.2v9M1461.7,795.0v9" stroke="#fff" stroke-width="0.5" stroke-opacity="0.4"/>
<polyline points="1491.7,805.4 1491,805.4 1490.4,805.4 1489.7,805.4 1489,805.4 1488.4,805.4 1487.7,805.4 1487,805.3 1486.4,805.3 1485.7,805.3 1485,805.2 1484.4,805.1 1483.7,805.1 1483.1,805 1482.4,804.8 1481.7,804.7 1481.1,804.6 1480.4,804.4 1479.7,804.2 1479.1,804.1 1478.4,803.8 1477.7,803.6 1477.1,803.4 1476.4,803.1 1475.7,802.8 1475.1,802.5 1474.4,802.2 1473.8,801.8 1473.1,801.5 1472.4,801.1 1471.8,800.7 1471.1,800.3 1470.4,799.9 1469.8,799.5 1469.1,799 1468.4,798.6 1467.8,798.1 1467.1,797.6 1466.4,797.2 1465.8,796.7 1465.1,796.2 1464.5,795.7 1463.8,795.2 1463.1,794.7 1462.5,794.2 1461.8,793.8 1461.1,793.3 1460.5,792.8 1459.8,792.4 1459.1,791.9 1458.5,791.5 1457.8,791.1 1457.1,790.7 1456.5,790.3 1455.8,789.9 1455.2,789.6 1454.5,789.2 1453.8,788.9 1453.2,788.6 1452.5,788.4 1451.8,788.2 1451.2,788 1450.5,787.8 1449.8,787.6 1449.2,787.5 1448.5,787.4 1447.8,787.3 1447.2,787.3 1446.5,787.3 1445.9,787.3 1445.2,787.4 1444.5,787.5 1443.9,787.6 1443.2,787.7 1442.5,787.9 1441.9,788.1 1441.2,788.3 1440.5,788.5 1439.9,788.8 1439.2,789.1 1438.5,789.4 1437.9,789.8 1437.2,790.1 1436.5,790.5 1435.9,790.9 1435.2,791.3 1434.6,791.8 1433.9,792.2 1433.2,792.6 1432.6,793.1 1431.9,793.6 1431.2,794.1 1430.6,794.5 1429.9,795 1429.2,795.5 1428.6,796 1427.9,796.5 1427.2,797 1426.6,797.4 1425.9,797.9 1425.3,798.4 1424.6,798.8 1423.9,799.3 1423.3,799.7 1422.6,800.1 1421.9,800.6 1421.3,801 1420.6,801.3 1419.9,801.7 1419.3,802 1418.6,802.4 1417.9,802.7 1417.3,803 1416.6,803.3 1416,803.5 1415.3,803.8 1414.6,804 1414,804.2 1413.3,804.4 1412.6,804.5 1412,804.7 1411.3,804.8 1410.6,804.9 1410,805 1409.3,805.1 1408.6,805.2 1408,805.2 1407.3,805.3 1406.7,805.3 1406,805.4 1405.3,805.4 1404.7,805.4 1404,805.4 1403.3,805.4 1402.7,805.4 1402,805.4" stroke="#c20012" marker-start="url(#nr)" marker-mid="url(#nr)" marker-end="url(#nr)"/>
<polyline points="1641.2,805.4 1640.5,805.4 1639.9,805.4 1639.2,805.4 1638.6,805.4 1637.9,805.4 1637.2,805.4 1636.6,805.4 1635.9,805.3 1635.2,805.3 1634.6,805.3 1633.9,805.3 1633.2,805.2 1632.6,805.2 1631.9,805.1 1631.2,805.1 1630.6,805 1629.9,804.9 1629.3,804.9 1628.6,804.8 1627.9,804.7 1627.3,804.6 1626.6,804.5 1625.9,804.3 1625.3,804.2 1624.6,804.1 1623.9,803.9 1623.3,803.8 1622.6,803.6 1621.9,803.5 1621.3,803.3 1620.6,803.2 1620,803 1619.3,802.8 1618.6,802.6 1618,802.4 1617.3,802.2 1616.6,802.1 1616,801.9 1615.3,801.7 1614.6,801.5 1614,801.3 1613.3,801.1 1612.6,800.9 1612,800.7 1611.3,800.6 1610.6,800.4 1610,800.2 1609.3,800 1608.7,799.9 1608,799.7 1607.3,799.6 1606.7,799.5 1606,799.3 1605.3,799.2 1604.7,799.1 1604,799 1603.3,798.9 1602.7,798.8 1602,798.8 1601.3,798.7 1600.7,798.7 1600,798.7 1599.4,798.6 1598.7,798.6 1598,798.6 1597.4,798.7 1596.7,798.7 1596,798.7 1595.4,798.8 1594.7,798.9 1594,798.9 1593.4,799 1592.7,799.1 1592,799.2 1591.4,799.4 1590.7,799.5 1590.1,799.6 1589.4,799.8 1588.7,799.9 1588.1,800.1 1587.4,800.2 1586.7,800.4 1586.1,800.6 1585.4,800.8 1584.7,801 1584.1,801.1 1583.4,801.3 1582.7,801.5 1582.1,801.7 1581.4,801.9 1580.8,802.1 1580.1,802.3 1579.4,802.5 1578.8,802.7 1578.1,802.8 1577.4,803 1576.8,803.2 1576.1,803.4 1575.4,803.5 1574.8,803.7 1574.1,803.8 1573.4,804 1572.8,804.1 1572.1,804.2 1571.5,804.4 1570.8,804.5 1570.1,804.6 1569.5,804.7 1568.8,804.8 1568.1,804.9 1567.5,805 1566.8,805 1566.1,805.1 1565.5,805.1 1564.8,805.2 1564.1,805.2 1563.5,805.3 1562.8,805.3 1562.1,805.3 1561.5,805.4 1560.8,805.4 1560.2,805.4 1559.5,805.4 1558.8,805.4 1558.2,805.4 1557.5,805.4 1556.8,805.4 1556.2,805.4" stroke="#c20012" marker-start="url(#nr)" marker-mid="url(#nr)" marker-end="url(#nr)"/>
<polyline points="1738.7,805.4 1738.1,805.4 1737.5,805.4 1736.8,805.4 1736.2,805.4 1735.6,805.4 1734.9,805.4 1734.3,805.4 1733.7,805.4 1733,805.4 1732.4,805.3 1731.8,805.3 1731.1,805.3 1730.5,805.3 1729.9,805.2 1729.2,805.2 1728.6,805.1 1727.9,805.1 1727.3,805 1726.6,805 1726,804.9 1725.3,804.8 1724.7,804.7 1724,804.6 1723.4,804.5 1722.7,804.4 1722.1,804.3 1721.4,804.2 1720.7,804.1 1720.1,803.9 1719.4,803.8 1718.7,803.6 1718.1,803.5 1717.4,803.3 1716.7,803.1 1716,802.9 1715.4,802.7 1714.7,802.5 1714,802.3 1713.3,802 1712.6,801.8 1711.9,801.6 1711.2,801.3 1710.5,801 1709.8,800.8 1709.1,800.5 1708.4,800.2 1707.7,799.9 1707,799.6 1706.3,799.3 1705.6,798.9 1704.9,798.6 1704.2,798.3 1703.5,797.9 1702.7,797.5 1702,797.2 1701.3,796.8 1700.6,796.4 1699.9,796.1 1699.1,795.7 1698.4,795.3 1697.7,794.9 1696.9,794.5 1696.2,794 1695.5,793.6 1694.7,793.2 1694,792.8 1693.3,792.4 1692.5,791.9 1691.8,791.5 1691.1,791.1 1690.3,790.6 1689.6,790.2 1688.8,789.8 1688.1,789.3 1687.4,788.9 1686.6,788.5 1685.9,788 1685.2,787.6 1684.4,787.2 1683.7,786.7 1682.9,786.3 1682.2,785.9 1681.5,785.5 1680.7,785 1680,784.6 1679.3,784.2 1678.6,783.8 1677.8,783.4 1677.1,783 1676.4,782.7 1675.7,782.3 1674.9,781.9 1674.2,781.6 1673.5,781.2 1672.8,780.9 1672.1,780.5 1671.4,780.2 1670.6,779.9 1669.9,779.6 1669.2,779.3 1668.5,779 1667.8,778.7 1667.2,778.5 1666.5,778.2 1665.8,778 1665.1,777.8 1664.4,777.6 1663.7,777.4 1663.1,777.2 1662.4,777 1661.7,776.9 1661,776.7 1660.4,776.6 1659.7,776.5 1659.1,776.4 1658.4,776.3 1657.8,776.2 1657.1,776.2 1656.5,776.1 1655.8,776.1 1655.2,776.1 1654.6,776.1 1654,776.1 1653.3,776.1 1652.7,776.2 1652.1,776.2 1651.5,776.3 1650.9,776.4 1650.3,776.5 1649.7,776.6 1649.1,776.8 1648.5,776.9 1647.9,777.1 1647.3,777.2 1646.7,777.4 1646.1,777.6 1645.6,777.8 1645,778.1 1644.4,778.3 1643.8,778.6 1643.3,778.8 1642.7,779.1 1642.2,779.4 1641.6,779.7 1641,780 1640.5,780.3 1639.9,780.6 1639.4,780.9 1638.8,781.3 1638.3,781.6 1637.8,782 1637.2,782.4 1636.7,782.7 1636.2,783.1 1635.6,783.5 1635.1,783.9 1634.6,784.3 1634,784.7 1633.5,785.1 1633,785.6 1632.4,786 1631.9,786.4 1631.4,786.8 1630.9,787.3 1630.3,787.7 1629.8,788.1 1629.3,788.6 1628.8,789 1628.3,789.4 1627.7,789.9 1627.2,790.3 1626.7,790.7 1626.2,791.2 1625.6,791.6 1625.1,792 1624.6,792.5 1624.1,792.9 1623.5,793.3 1623,793.7 1622.5,794.1 1622,794.6 1621.4,795 1620.9,795.4 1620.4,795.8 1619.8,796.1 1619.3,796.5 1618.8,796.9 1618.2,797.3 1617.7,797.6 1617.1,798 1616.6,798.3 1616,798.7 1615.5,799 1614.9,799.3 1614.4,799.7 1613.8,800 1613.3,800.3 1612.7,800.5 1612.2,800.8 1611.6,801.1 1611,801.4 1610.5,801.6 1609.9,801.9 1609.3,802.1 1608.8,802.3 1608.2,802.5 1607.6,802.8 1607,803 1606.4,803.1 1605.8,803.3 1605.3,803.5 1604.7,803.7 1604.1,803.8 1603.5,804 1602.9,804.1 1602.3,804.2 1601.7,804.4 1601.1,804.5 1600.5,804.6 1599.9,804.7 1599.3,804.8 1598.7,804.8 1598,804.9 1597.4,805 1596.8,805 1596.2,805.1 1595.6,805.1 1595,805.2 1594.3,805.2 1593.7,805.3 1593.1,805.3 1592.5,805.3 1591.8,805.3 1591.2,805.4 1590.6,805.4 1590,805.4 1589.3,805.4 1588.7,805.4 1588.1,805.4 1587.4,805.4 1586.8,805.4 1586.2,805.4 1585.6,805.4" stroke="#3a4197" marker-start="url(#nb)" marker-mid="url(#nb)" marker-end="url(#nb)"/>
<polyline points="1181.6,805.4 1180.9,805.4 1180.3,805.4 1179.6,805.4 1178.9,805.4 1178.3,805.4 1177.6,805.4 1176.9,805.4 1176.3,805.4 1175.6,805.4 1174.9,805.4 1174.3,805.4 1173.6,805.4 1172.9,805.4 1172.3,805.3 1171.6,805.3 1171,805.3 1170.3,805.3 1169.6,805.3 1169,805.3 1168.3,805.2 1167.6,805.2 1167,805.2 1166.3,805.2 1165.6,805.1 1165,805.1 1164.3,805.1 1163.6,805 1163,805 1162.3,804.9 1161.7,804.9 1161,804.9 1160.3,804.8 1159.7,804.7 1159,804.7 1158.3,804.6 1157.7,804.6 1157,804.5 1156.3,804.4 1155.7,804.4 1155,804.3 1154.3,804.2 1153.7,804.2 1153,804.1 1152.3,804 1151.7,803.9 1151,803.8 1150.4,803.7 1149.7,803.6 1149,803.5 1148.4,803.5 1147.7,803.4 1147,803.3 1146.4,803.2 1145.7,803.1 1145,802.9 1144.4,802.8 1143.7,802.7 1143,802.6 1142.4,802.5 1141.7,802.4 1141.1,802.3 1140.4,802.2 1139.7,802.1 1139.1,802 1138.4,801.8 1137.7,801.7 1137.1,801.6 1136.4,801.5 1135.7,801.4 1135.1,801.3 1134.4,801.1 1133.7,801 1133.1,800.9 1132.4,800.8 1131.8,800.7 1131.1,800.6 1130.4,800.5 1129.8,800.4 1129.1,800.3 1128.4,800.1 1127.8,800 1127.1,799.9 1126.4,799.8 1125.8,799.7 1125.1,799.6 1124.4,799.6 1123.8,799.5 1123.1,799.4 1122.5,799.3 1121.8,799.2 1121.1,799.1 1120.5,799 1119.8,799 1119.1,798.9 1118.5,798.8 1117.8,798.8 1117.1,798.7 1116.5,798.6 1115.8,798.6 1115.1,798.5 1114.5,798.5 1113.8,798.5 1113.2,798.4 1112.5,798.4 1111.8,798.3 1111.2,798.3 1110.5,798.3 1109.8,798.3 1109.2,798.3 1108.5,798.3 1107.8,798.3 1107.2,798.3 1106.5,798.3 1105.8,798.3 1105.2,798.3 1104.5,798.3 1103.8,798.3 1103.2,798.3 1102.5,798.4 1101.9,798.4 1101.2,798.4 1100.5,798.5 1099.9,798.5 1099.2,798.6 1098.5,798.6 1097.9,798.7 1097.2,798.7 1096.5,798.8 1095.9,798.9 1095.2,798.9 1094.5,799 1093.9,799.1 1093.2,799.1 1092.6,799.2 1091.9,799.3 1091.2,799.4 1090.6,799.5 1089.9,799.6 1089.2,799.7 1088.6,799.8 1087.9,799.9 1087.2,800 1086.6,800.1 1085.9,800.2 1085.2,800.3 1084.6,800.4 1083.9,800.5 1083.3,800.6 1082.6,800.7 1081.9,800.8 1081.3,801 1080.6,801.1 1079.9,801.2 1079.3,801.3 1078.6,801.4 1077.9,801.5 1077.3,801.7 1076.6,801.8 1075.9,801.9 1075.3,802 1074.6,802.1 1074,802.2 1073.3,802.3 1072.6,802.4 1072,802.6 1071.3,802.7 1070.6,802.8 1070,802.9 1069.3,803 1068.6,803.1 1068,803.2 1067.3,803.3 1066.6,803.4 1066,803.5 1065.3,803.6 1064.7,803.7 1064,803.8 1063.3,803.9 1062.7,803.9 1062,804 1061.3,804.1 1060.7,804.2 1060,804.3 1059.3,804.3 1058.7,804.4 1058,804.5 1057.3,804.5 1056.7,804.6 1056,804.7 1055.3,804.7 1054.7,804.8 1054,804.8 1053.4,804.9 1052.7,804.9 1052,805 1051.4,805 1050.7,805 1050,805.1 1049.4,805.1 1048.7,805.1 1048,805.2 1047.4,805.2 1046.7,805.2 1046,805.2 1045.4,805.3 1044.7,805.3 1044.1,805.3 1043.4,805.3 1042.7,805.3 1042.1,805.3 1041.4,805.4 1040.7,805.4 1040.1,805.4 1039.4,805.4 1038.7,805.4 1038.1,805.4 1037.4,805.4 1036.7,805.4 1036.1,805.4 1035.4,805.4 1034.8,805.4 1034.1,805.4 1033.4,805.4 1032.8,805.4" stroke="#c20012" marker-start="url(#nr)" marker-mid="url(#nr)" marker-end="url(#nr)"/>
<polyline points="1160.7,805.4 1160.1,805.4 1159.5,805.4 1158.8,805.4 1158.2,805.4 1157.6,805.4 1156.9,805.4 1156.3,805.3 1155.7,805.3 1155.1,805.3 1154.4,805.2 1153.8,805.2 1153.2,805.1 1152.5,805 1151.9,804.9 1151.3,804.8 1150.6,804.7 1150,804.5 1149.4,804.4 1148.8,804.2 1148.1,804 1147.5,803.8 1146.9,803.6 1146.2,803.4 1145.6,803.2 1145,802.9 1144.3,802.6 1143.7,802.3 1143.1,802 1142.5,801.7 1141.8,801.3 1141.2,801 1140.6,800.6 1139.9,800.2 1139.3,799.8 1138.7,799.4 1138,799 1137.4,798.6 1136.8,798.1 1136.1,797.7 1135.5,797.2 1134.9,796.8 1134.3,796.3 1133.6,795.9 1133,795.4 1132.4,794.9 1131.7,794.5 1131.1,794 1130.5,793.5 1129.8,793.1 1129.2,792.6 1128.6,792.2 1128,791.8 1127.3,791.3 1126.7,790.9 1126.1,790.5 1125.4,790.2 1124.8,789.8 1124.2,789.4 1123.5,789.1 1122.9,788.8 1122.3,788.5 1121.7,788.2 1121,787.9 1120.4,787.7 1119.8,787.5 1119.1,787.3 1118.5,787.1 1117.9,787 1117.2,786.9 1116.6,786.8 1116,786.7 1115.3,786.7 1114.7,786.7 1114.1,786.7 1113.5,786.7 1112.8,786.8 1112.2,786.9 1111.6,787 1110.9,787.1 1110.3,787.3 1109.7,787.5 1109,787.7 1108.4,787.9 1107.8,788.2 1107.2,788.5 1106.5,788.8 1105.9,789.1 1105.3,789.4 1104.6,789.8 1104,790.1 1103.4,790.5 1102.7,790.9 1102.1,791.3 1101.5,791.7 1100.9,792.2 1100.2,792.6 1099.6,793.1 1099,793.5 1098.3,794 1097.7,794.4 1097.1,794.9 1096.4,795.4 1095.8,795.8 1095.2,796.3 1094.5,796.8 1093.9,797.2 1093.3,797.7 1092.7,798.1 1092,798.6 1091.4,799 1090.8,799.4 1090.1,799.8 1089.5,800.2 1088.9,800.6 1088.2,801 1087.6,801.3 1087,801.7 1086.4,802 1085.7,802.3 1085.1,802.6 1084.5,802.9 1083.8,803.1 1083.2,803.4 1082.6,803.6 1081.9,803.8 1081.3,804 1080.7,804.2 1080.1,804.4 1079.4,804.5 1078.8,804.7 1078.2,804.8 1077.5,804.9 1076.9,805 1076.3,805.1 1075.6,805.2 1075,805.2 1074.4,805.3 1073.7,805.3 1073.1,805.3 1072.5,805.4 1071.9,805.4 1071.2,805.4 1070.6,805.4 1070,805.4 1069.3,805.4 1068.7,805.4" stroke="#3a4197" marker-start="url(#nb)" marker-mid="url(#nb)" marker-end="url(#nb)"/>
<path d="M1091.8,794.2v9M1103.3,786.0v9M1114.9,782.2v9M1126.4,786.3v9M1138.0,794.5v9" stroke="#fff" stroke-width="0.5" stroke-opacity="0.4"/>
<polyline points="1164.6,805.4 1163.9,805.4 1163.3,805.4 1162.6,805.4 1161.9,805.4 1161.3,805.4 1160.6,805.4 1159.9,805.4 1159.3,805.4 1158.6,805.4 1157.9,805.4 1157.3,805.4 1156.6,805.4 1155.9,805.4 1155.3,805.4 1154.6,805.3 1154,805.3 1153.3,805.3 1152.6,805.3 1152,805.3 1151.3,805.3 1150.6,805.3 1150,805.2 1149.3,805.2 1148.6,805.2 1148,805.2 1147.3,805.1 1146.6,805.1 1146,805.1 1145.3,805 1144.6,805 1144,805 1143.3,804.9 1142.7,804.9 1142,804.8 1141.3,804.8 1140.7,804.7 1140,804.7 1139.3,804.7 1138.7,804.6 1138,804.5 1137.3,804.5 1136.7,804.4 1136,804.4 1135.3,804.3 1134.7,804.3 1134,804.2 1133.4,804.2 1132.7,804.1 1132,804 1131.4,804 1130.7,803.9 1130,803.9 1129.4,803.8 1128.7,803.8 1128,803.7 1127.4,803.6 1126.7,803.6 1126,803.5 1125.4,803.5 1124.7,803.4 1124.1,803.4 1123.4,803.3 1122.7,803.3 1122.1,803.2 1121.4,803.2 1120.7,803.1 1120.1,803.1 1119.4,803 1118.7,803 1118.1,803 1117.4,802.9 1116.7,802.9 1116.1,802.9 1115.4,802.8 1114.8,802.8 1114.1,802.8 1113.4,802.8 1112.8,802.7 1112.1,802.7 1111.4,802.7 1110.8,802.7 1110.1,802.7 1109.4,802.7 1108.8,802.7 1108.1,802.7 1107.4,802.7 1106.8,802.7 1106.1,802.7 1105.5,802.7 1104.8,802.8 1104.1,802.8 1103.5,802.8 1102.8,802.8 1102.1,802.8 1101.5,802.9 1100.8,802.9 1100.1,802.9 1099.5,803 1098.8,803 1098.1,803.1 1097.5,803.1 1096.8,803.1 1096.1,803.2 1095.5,803.2 1094.8,803.3 1094.2,803.3 1093.5,803.4 1092.8,803.5 1092.2,803.5 1091.5,803.6 1090.8,803.6 1090.2,803.7 1089.5,803.7 1088.8,803.8 1088.2,803.9 1087.5,803.9 1086.8,804 1086.2,804 1085.5,804.1 1084.9,804.1 1084.2,804.2 1083.5,804.3 1082.9,804.3 1082.2,804.4 1081.5,804.4 1080.9,804.5 1080.2,804.5 1079.5,804.6 1078.9,804.6 1078.2,804.7 1077.5,804.7 1076.9,804.8 1076.2,804.8 1075.6,804.9 1074.9,804.9 1074.2,804.9 1073.6,805 1072.9,805 1072.2,805.1 1071.6,805.1 1070.9,805.1 1070.2,805.1 1069.6,805.2 1068.9,805.2 1068.2,805.2 1067.6,805.2 1066.9,805.3 1066.3,805.3 1065.6,805.3 1064.9,805.3 1064.3,805.3 1063.6,805.3 1062.9,805.4 1062.3,805.4 1061.6,805.4 1060.9,805.4 1060.3,805.4 1059.6,805.4 1058.9,805.4 1058.3,805.4 1057.6,805.4 1057,805.4 1056.3,805.4 1055.6,805.4 1055,805.4 1054.3,805.4 1053.6,805.4" stroke="#c20012" marker-start="url(#nr)" marker-mid="url(#nr)" marker-end="url(#nr)"/>
<polyline points="1176.4,805.4 1175.7,805.4 1175,805.4 1174.4,805.4 1173.7,805.3 1173,805.3 1172.4,805.2 1171.7,805.1 1171,804.9 1170.4,804.7 1169.7,804.5 1169,804.2 1168.4,803.8 1167.7,803.4 1167.1,802.9 1166.4,802.4 1165.7,801.9 1165.1,801.3 1164.4,800.7 1163.7,800 1163.1,799.4 1162.4,798.7 1161.7,798 1161.1,797.3 1160.4,796.6 1159.7,795.9 1159.1,795.3 1158.4,794.7 1157.7,794.1 1157.1,793.6 1156.4,793.2 1155.8,792.8 1155.1,792.4 1154.4,792.2 1153.8,792 1153.1,791.9 1152.4,791.9 1151.8,791.9 1151.1,792.1 1150.4,792.3 1149.8,792.6 1149.1,793 1148.4,793.4 1147.8,793.9 1147.1,794.4 1146.5,795 1145.8,795.6 1145.1,796.3 1144.5,797 1143.8,797.7 1143.1,798.3 1142.5,799 1141.8,799.7 1141.1,800.4 1140.5,801 1139.8,801.6 1139.1,802.2 1138.5,802.7 1137.8,803.2 1137.2,803.6 1136.5,804 1135.8,804.3 1135.2,804.6 1134.5,804.8 1133.8,805 1133.2,805.2 1132.5,805.3 1131.8,805.3 1131.2,805.4 1130.5,805.4 1129.8,805.4 1129.2,805.4" stroke="#c20012" marker-start="url(#nr)" marker-mid="url(#nr)" marker-end="url(#nr)"/>
<polyline points="1211.1,805.4 1210.5,805.4 1209.8,805.4 1209.1,805.4 1208.5,805.3 1207.8,805.2 1207.2,805.1 1206.5,805 1205.8,804.8 1205.2,804.5 1204.5,804.3 1203.8,803.9 1203.2,803.5 1202.5,803.1 1201.8,802.6 1201.2,802.1 1200.5,801.6 1199.8,801 1199.2,800.4 1198.5,799.9 1197.9,799.2 1197.2,798.7 1196.5,798.1 1195.9,797.5 1195.2,797 1194.5,796.5 1193.9,796.1 1193.2,795.7 1192.5,795.4 1191.9,795.1 1191.2,794.9 1190.5,794.8 1189.9,794.8 1189.2,794.8 1188.5,794.9 1187.9,795.1 1187.2,795.4 1186.6,795.7 1185.9,796.1 1185.2,796.5 1184.6,797 1183.9,797.6 1183.2,798.1 1182.6,798.7 1181.9,799.3 1181.2,799.9 1180.6,800.5 1179.9,801.1 1179.2,801.7 1178.6,802.2 1177.9,802.7 1177.3,803.2 1176.6,803.6 1175.9,804 1175.3,804.3 1174.6,804.6 1173.9,804.8 1173.3,805 1172.6,805.1 1171.9,805.2 1171.3,805.3 1170.6,805.4 1169.9,805.4 1169.3,805.4 1168.6,805.4" stroke="#c20012" marker-start="url(#nr)" marker-mid="url(#nr)" marker-end="url(#nr)"/>
<polyline points="1022.2,805.4 1021.6,805.4 1021,805.3 1020.3,804.9 1019.7,804.2 1019.1,803 1018.5,801.3 1017.8,799 1017.2,796.1 1016.6,792.8 1015.9,789 1015.3,784.8" stroke="#3a4197" marker-start="url(#nb)" marker-mid="url(#nb)" marker-end="url(#nb)"/>
<path d="M1011.0,805.4H1743.6" stroke="#3a4197" stroke-width="10.4"/>
<polyline points="1719.5,815.1 1718.9,815.1 1718.2,815.1 1717.5,815.1 1716.9,815.1 1716.2,815 1715.6,815 1714.9,815 1714.2,815 1713.6,815 1712.9,814.9 1712.2,814.9 1711.6,814.9 1710.9,814.8 1710.2,814.7 1709.6,814.7 1708.9,814.6 1708.2,814.5 1707.6,814.4 1706.9,814.3 1706.3,814.1 1705.6,814 1704.9,813.8 1704.3,813.7 1703.6,813.5 1702.9,813.3 1702.3,813.1 1701.6,812.9 1700.9,812.6 1700.3,812.4 1699.6,812.1 1698.9,811.8 1698.3,811.6 1697.6,811.2 1697,810.9 1696.3,810.6 1695.6,810.2 1695,809.9 1694.3,809.5 1693.6,809.1 1693,808.7 1692.3,808.3 1691.6,807.9 1691,807.4 1690.3,807 1689.6,806.6 1689,806.1 1688.3,805.6 1687.6,805.1 1687,804.7 1686.3,804.2 1685.7,803.7 1685,803.2 1684.3,802.7 1683.7,802.2 1683,801.6 1682.3,801.1 1681.7,800.6 1681,800.1 1680.3,799.6 1679.7,799.1 1679,798.6 1678.3,798.1 1677.7,797.6 1677,797.1 1676.4,796.6 1675.7,796.1 1675,795.7 1674.4,795.2 1673.7,794.8 1673,794.3 1672.4,793.9 1671.7,793.5 1671,793.1 1670.4,792.7 1669.7,792.3 1669,792 1668.4,791.7 1667.7,791.3 1667.1,791 1666.4,790.8 1665.7,790.5 1665.1,790.2 1664.4,790 1663.7,789.8 1663.1,789.6 1662.4,789.5 1661.7,789.3 1661.1,789.2 1660.4,789.1 1659.7,789.1 1659.1,789 1658.4,789 1657.8,789 1657.1,789 1656.4,789 1655.8,789.1 1655.1,789.2 1654.4,789.3 1653.8,789.4 1653.1,789.6 1652.4,789.8 1651.8,789.9 1651.1,790.2 1650.4,790.4 1649.8,790.7 1649.1,790.9 1648.5,791.2 1647.8,791.5 1647.1,791.9 1646.5,792.2 1645.8,792.6 1645.1,792.9 1644.5,793.3 1643.8,793.7 1643.1,794.2 1642.5,794.6 1641.8,795 1641.1,795.5 1640.5,796 1639.8,796.4 1639.1,796.9 1638.5,797.4 1637.8,797.9 1637.2,798.4 1636.5,798.9 1635.8,799.4 1635.2,799.9 1634.5,800.4 1633.8,800.9 1633.2,801.4 1632.5,802 1631.8,802.5 1631.2,803 1630.5,803.5 1629.8,804 1629.2,804.5 1628.5,805 1627.9,805.4 1627.2,805.9 1626.5,806.4 1625.9,806.8 1625.2,807.3 1624.5,807.7 1623.9,808.1 1623.2,808.6 1622.5,809 1621.9,809.4 1621.2,809.7 1620.5,810.1 1619.9,810.5 1619.2,810.8 1618.6,811.1 1617.9,811.4 1617.2,811.7 1616.6,812 1615.9,812.3 1615.2,812.5 1614.6,812.8 1613.9,813 1613.2,813.2 1612.6,813.4 1611.9,813.6 1611.2,813.8 1610.6,813.9 1609.9,814.1 1609.3,814.2 1608.6,814.3 1607.9,814.5 1607.3,814.6 1606.6,814.6 1605.9,814.7 1605.3,814.8 1604.6,814.8 1603.9,814.9 1603.3,814.9 1602.6,815 1601.9,815 1601.3,815 1600.6,815 1600,815 1599.3,815.1 1598.6,815.1 1598,815.1 1597.3,815.1 1596.6,815.1" stroke="#c20012" marker-start="url(#nr)" marker-mid="url(#nr)" marker-end="url(#nr)"/>
<path d="M1022.4,800.8v5.6M1034.0,800.8v5.6M1045.5,800.8v5.6M1057.1,800.8v5.6M1068.6,800.8v5.6M1080.2,800.8v5.6M1091.8,800.8v5.6M1103.3,800.8v5.6M1114.9,800.8v5.6M1126.4,800.8v5.6M1138.0,800.8v5.6M1149.6,800.8v5.6M1161.1,800.8v5.6M1172.7,800.8v5.6M1184.2,800.8v5.6M1195.8,800.8v5.6M1207.4,800.8v5.6M1230.5,800.8v5.6M1242.0,800.8v5.6M1253.6,800.8v5.6M1265.2,800.8v5.6M1276.7,800.8v5.6M1299.8,800.8v5.6M1311.4,800.8v5.6M1323.0,800.8v5.6M1334.5,800.8v5.6M1346.1,800.8v5.6M1357.6,800.8v5.6M1380.8,800.8v5.6M1392.3,800.8v5.6M1403.9,800.8v5.6M1415.4,800.8v5.6M1427.0,800.8v5.6M1438.6,800.8v5.6M1450.1,800.8v5.6M1461.7,800.8v5.6M1473.2,800.8v5.6M1484.8,800.8v5.6M1496.4,800.8v5.6M1507.9,800.8v5.6M1519.5,800.8v5.6M1531.0,800.8v5.6M1542.6,800.8v5.6M1554.2,800.8v5.6M1565.7,800.8v5.6M1577.3,800.8v5.6M1588.8,800.8v5.6M1600.4,800.8v5.6M1612.0,800.8v5.6M1623.5,800.8v5.6M1635.1,800.8v5.6M1646.6,800.8v5.6M1658.2,800.8v5.6M1669.8,800.8v5.6M1681.3,800.8v5.6M1692.9,800.8v5.6M1704.4,800.8v5.6M1716.0,800.8v5.6M1727.6,800.8v5.6" stroke="#fff" stroke-width="0.5" stroke-opacity="0.45"/>
<rect x="1016.3" y="801.0" width="3.3" height="5.4" fill="#fff" stroke="none"/>
<rect x="1009.7" y="779.9" width="9.9" height="9.9" fill="#fff" stroke="#3a4197" stroke-width="0.7"/>
</g>
<text transform="translate(963.87,813.55) scale(0.9631,1)" font-size="31.0" fill="#1a1a1a" stroke="#1a1a1a" stroke-width="0.5">0.0</text>
<text transform="translate(963.88,716.95) scale(0.9535,1)" font-size="31.0" fill="#1a1a1a" stroke="#1a1a1a" stroke-width="0.5">0.5</text>
<text transform="translate(963.14,620.35) scale(0.9807,1)" font-size="31.0" fill="#1a1a1a" stroke="#1a1a1a" stroke-width="0.5">1.0</text>
<text transform="translate(963.15,523.75) scale(0.9707,1)" font-size="31.0" fill="#1a1a1a" stroke="#1a1a1a" stroke-width="0.5">1.5</text>
<text transform="translate(964.02,427.15) scale(0.9596,1)" font-size="31.0" fill="#1a1a1a" stroke="#1a1a1a" stroke-width="0.5">2.0</text>
<text transform="translate(964.03,330.55) scale(0.9500,1)" font-size="31.0" fill="#1a1a1a" stroke="#1a1a1a" stroke-width="0.5">2.5</text>
<text transform="translate(1023.41,837.00) scale(1.0067,1)" font-size="30.4" fill="#1a1a1a" stroke="#1a1a1a" stroke-width="0.5">1240</text>
<text transform="translate(1108.59,837.00) scale(1.0067,1)" font-size="30.4" fill="#1a1a1a" stroke="#1a1a1a" stroke-width="0.5">1250</text>
<text transform="translate(1193.76,837.00) scale(1.0067,1)" font-size="30.4" fill="#1a1a1a" stroke="#1a1a1a" stroke-width="0.5">1260</text>
<text transform="translate(1278.94,837.00) scale(1.0067,1)" font-size="30.4" fill="#1a1a1a" stroke="#1a1a1a" stroke-width="0.5">1270</text>
<text transform="translate(1364.12,837.00) scale(1.0067,1)" font-size="30.4" fill="#1a1a1a" stroke="#1a1a1a" stroke-width="0.5">1280</text>
<text transform="translate(1449.29,837.00) scale(1.0067,1)" font-size="30.4" fill="#1a1a1a" stroke="#1a1a1a" stroke-width="0.5">1290</text>
<text transform="translate(1534.47,837.00) scale(1.0067,1)" font-size="30.4" fill="#1a1a1a" stroke="#1a1a1a" stroke-width="0.5">1300</text>
<text transform="translate(1619.65,837.00) scale(1.0067,1)" font-size="30.4" fill="#1a1a1a" stroke="#1a1a1a" stroke-width="0.5">1310</text>
<text transform="translate(1704.82,837.00) scale(1.0067,1)" font-size="30.4" fill="#1a1a1a" stroke="#1a1a1a" stroke-width="0.5">1320</text>
<text transform="translate(1248.62,866.10) scale(0.9926,1)" font-size="30.3" fill="#1a1a1a" stroke="#1a1a1a" stroke-width="0.5">Wavelength(nm)</text>
<text transform="translate(948.80,773.62) rotate(-90) scale(0.9505,1)" font-size="31.0" fill="#1a1a1a" stroke="#1a1a1a" stroke-width="0.5">Field Intensity Amplitude(a.u.)</text>
<path d="M1642.1,335.4 H1660.6699999999998 M1672.47,335.4 H1691.6" stroke="#c20012" stroke-width="2.1" fill="none"/>
<path d="M1642.1,366.3 H1660.6699999999998 M1672.47,366.3 H1691.6" stroke="#3a4197" stroke-width="2.1" fill="none"/>
<circle cx="1666.57" cy="335.4" r="5.7" fill="#fff" stroke="#c20012" stroke-width="0.8"/>
<circle cx="1664.6699999999998" cy="333.29999999999995" r="2.3" fill="none" stroke="#c20012" stroke-width="0.8"/>
<rect x="1661.62" y="361.35" width="9.9" height="9.9" fill="#fff" stroke="#3a4197" stroke-width="0.8" stroke-opacity="0.75"/>
<text transform="translate(1698.62,342.70) scale(0.9069,1)" font-size="25.3" fill="#1a1a1a" stroke="#1a1a1a" stroke-width="0.5">M1</text>
<text transform="translate(1698.45,373.80) scale(1.0018,1)" font-size="25.3" fill="#1a1a1a" stroke="#1a1a1a" stroke-width="0.5">M2</text>
</svg>
</body></html>
